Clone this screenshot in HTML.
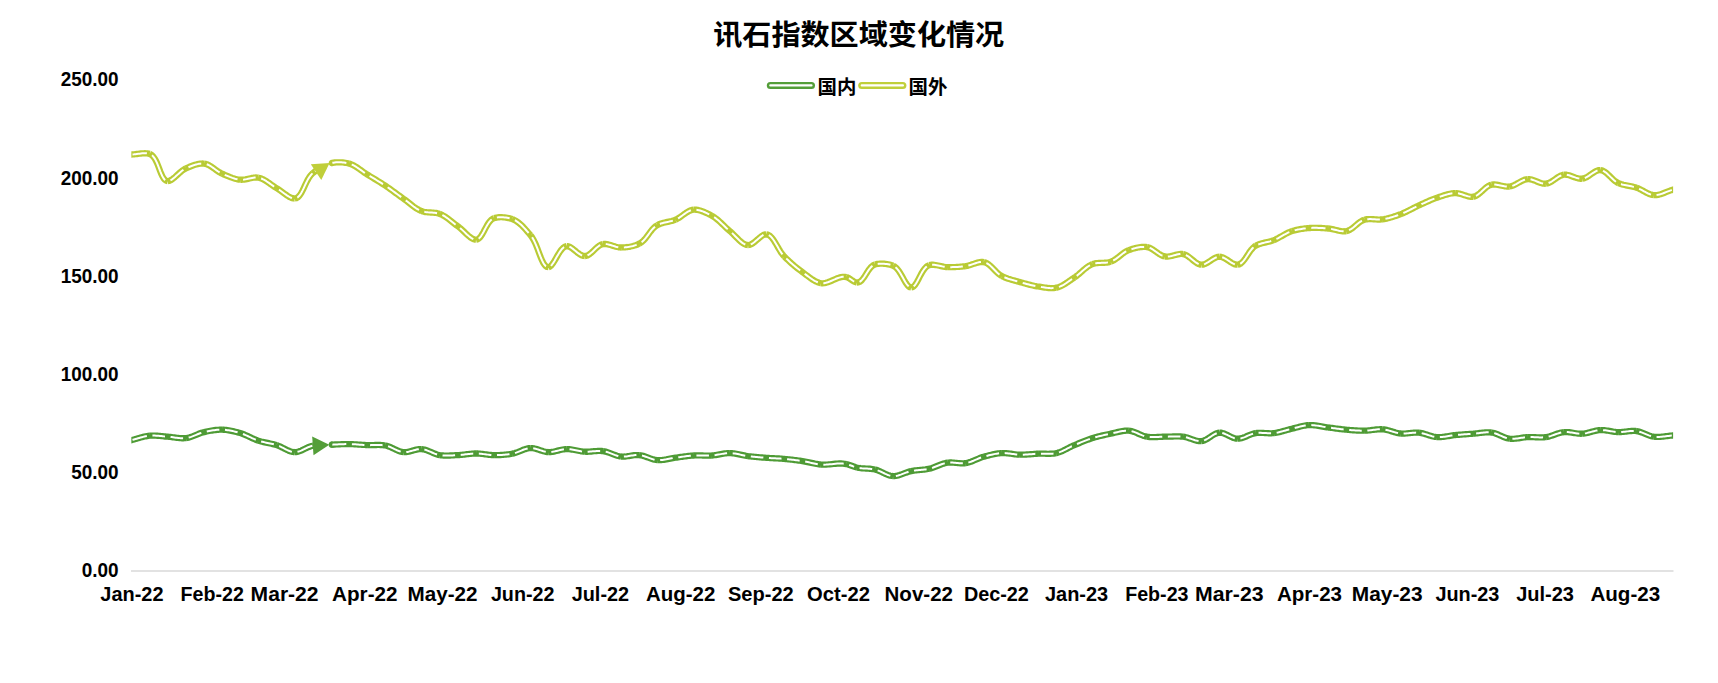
<!DOCTYPE html>
<html lang="zh"><head><meta charset="utf-8"><title>讯石指数区域变化情况</title>
<style>html,body{margin:0;padding:0;background:#fff;}body{width:1718px;height:683px;position:relative;overflow:hidden;font-family:"Liberation Sans","Noto Sans CJK SC",sans-serif;}</style></head>
<body>
<svg width="1718" height="683" viewBox="0 0 1718 683" style="position:absolute;left:0;top:0">
<rect width="1718" height="683" fill="#fff"/>
<line x1="131" y1="570.9" x2="1673.5" y2="570.9" stroke="#d9d9d9" stroke-width="1.5"/>
<text x="858.7" y="44.9" text-anchor="middle" font-size="28.6" font-family="'Liberation Sans','Noto Sans CJK SC',sans-serif" font-weight="bold" fill="#000" textLength="291" lengthAdjust="spacingAndGlyphs">讯石指数区域变化情况</text>
<text x="60.7" y="85.9" font-size="19.9" font-family="'Liberation Sans','Noto Sans CJK SC',sans-serif" font-weight="bold" fill="#000" textLength="57.9" lengthAdjust="spacingAndGlyphs">250.00</text>
<text x="60.7" y="184.9" font-size="19.9" font-family="'Liberation Sans','Noto Sans CJK SC',sans-serif" font-weight="bold" fill="#000" textLength="57.9" lengthAdjust="spacingAndGlyphs">200.00</text>
<text x="60.7" y="282.9" font-size="19.9" font-family="'Liberation Sans','Noto Sans CJK SC',sans-serif" font-weight="bold" fill="#000" textLength="57.9" lengthAdjust="spacingAndGlyphs">150.00</text>
<text x="60.7" y="380.9" font-size="19.9" font-family="'Liberation Sans','Noto Sans CJK SC',sans-serif" font-weight="bold" fill="#000" textLength="57.9" lengthAdjust="spacingAndGlyphs">100.00</text>
<text x="71.2" y="478.9" font-size="19.9" font-family="'Liberation Sans','Noto Sans CJK SC',sans-serif" font-weight="bold" fill="#000" textLength="47.4" lengthAdjust="spacingAndGlyphs">50.00</text>
<text x="81.7" y="576.9" font-size="19.9" font-family="'Liberation Sans','Noto Sans CJK SC',sans-serif" font-weight="bold" fill="#000" textLength="36.9" lengthAdjust="spacingAndGlyphs">0.00</text>
<text x="100.3" y="601.0" font-size="19.6" font-family="'Liberation Sans','Noto Sans CJK SC',sans-serif" font-weight="bold" fill="#000" textLength="63.2" lengthAdjust="spacingAndGlyphs">Jan-22</text>
<text x="180.5" y="601.0" font-size="19.6" font-family="'Liberation Sans','Noto Sans CJK SC',sans-serif" font-weight="bold" fill="#000" textLength="63.3" lengthAdjust="spacingAndGlyphs">Feb-22</text>
<text x="250.6" y="601.0" font-size="19.6" font-family="'Liberation Sans','Noto Sans CJK SC',sans-serif" font-weight="bold" fill="#000" textLength="68.0" lengthAdjust="spacingAndGlyphs">Mar-22</text>
<text x="332.1" y="601.0" font-size="19.6" font-family="'Liberation Sans','Noto Sans CJK SC',sans-serif" font-weight="bold" fill="#000" textLength="65.4" lengthAdjust="spacingAndGlyphs">Apr-22</text>
<text x="407.5" y="601.0" font-size="19.6" font-family="'Liberation Sans','Noto Sans CJK SC',sans-serif" font-weight="bold" fill="#000" textLength="70.0" lengthAdjust="spacingAndGlyphs">May-22</text>
<text x="490.9" y="601.0" font-size="19.6" font-family="'Liberation Sans','Noto Sans CJK SC',sans-serif" font-weight="bold" fill="#000" textLength="63.6" lengthAdjust="spacingAndGlyphs">Jun-22</text>
<text x="571.7" y="601.0" font-size="19.6" font-family="'Liberation Sans','Noto Sans CJK SC',sans-serif" font-weight="bold" fill="#000" textLength="57.4" lengthAdjust="spacingAndGlyphs">Jul-22</text>
<text x="645.9" y="601.0" font-size="19.6" font-family="'Liberation Sans','Noto Sans CJK SC',sans-serif" font-weight="bold" fill="#000" textLength="69.4" lengthAdjust="spacingAndGlyphs">Aug-22</text>
<text x="728.0" y="601.0" font-size="19.6" font-family="'Liberation Sans','Noto Sans CJK SC',sans-serif" font-weight="bold" fill="#000" textLength="65.7" lengthAdjust="spacingAndGlyphs">Sep-22</text>
<text x="807.0" y="601.0" font-size="19.6" font-family="'Liberation Sans','Noto Sans CJK SC',sans-serif" font-weight="bold" fill="#000" textLength="62.9" lengthAdjust="spacingAndGlyphs">Oct-22</text>
<text x="884.5" y="601.0" font-size="19.6" font-family="'Liberation Sans','Noto Sans CJK SC',sans-serif" font-weight="bold" fill="#000" textLength="68.5" lengthAdjust="spacingAndGlyphs">Nov-22</text>
<text x="963.9" y="601.0" font-size="19.6" font-family="'Liberation Sans','Noto Sans CJK SC',sans-serif" font-weight="bold" fill="#000" textLength="65.0" lengthAdjust="spacingAndGlyphs">Dec-22</text>
<text x="1045.0" y="601.0" font-size="19.6" font-family="'Liberation Sans','Noto Sans CJK SC',sans-serif" font-weight="bold" fill="#000" textLength="63.2" lengthAdjust="spacingAndGlyphs">Jan-23</text>
<text x="1125.2" y="601.0" font-size="19.6" font-family="'Liberation Sans','Noto Sans CJK SC',sans-serif" font-weight="bold" fill="#000" textLength="63.3" lengthAdjust="spacingAndGlyphs">Feb-23</text>
<text x="1195.0" y="601.0" font-size="19.6" font-family="'Liberation Sans','Noto Sans CJK SC',sans-serif" font-weight="bold" fill="#000" textLength="68.6" lengthAdjust="spacingAndGlyphs">Mar-23</text>
<text x="1277.0" y="601.0" font-size="19.6" font-family="'Liberation Sans','Noto Sans CJK SC',sans-serif" font-weight="bold" fill="#000" textLength="65.0" lengthAdjust="spacingAndGlyphs">Apr-23</text>
<text x="1351.8" y="601.0" font-size="19.6" font-family="'Liberation Sans','Noto Sans CJK SC',sans-serif" font-weight="bold" fill="#000" textLength="70.8" lengthAdjust="spacingAndGlyphs">May-23</text>
<text x="1435.4" y="601.0" font-size="19.6" font-family="'Liberation Sans','Noto Sans CJK SC',sans-serif" font-weight="bold" fill="#000" textLength="64.0" lengthAdjust="spacingAndGlyphs">Jun-23</text>
<text x="1516.2" y="601.0" font-size="19.6" font-family="'Liberation Sans','Noto Sans CJK SC',sans-serif" font-weight="bold" fill="#000" textLength="57.8" lengthAdjust="spacingAndGlyphs">Jul-23</text>
<text x="1590.4" y="601.0" font-size="19.6" font-family="'Liberation Sans','Noto Sans CJK SC',sans-serif" font-weight="bold" fill="#000" textLength="69.8" lengthAdjust="spacingAndGlyphs">Aug-23</text>
<line x1="770.3" y1="85.4" x2="811.5" y2="85.4" stroke="#549E39" stroke-width="7" stroke-linecap="round"/><line x1="770.3" y1="85.4" x2="811.5" y2="85.4" stroke="#fff" stroke-width="2.2" stroke-linecap="round"/>
<text x="817.6" y="94" font-size="19.4" font-family="'Liberation Sans','Noto Sans CJK SC',sans-serif" font-weight="bold" fill="#000" textLength="38.8" lengthAdjust="spacingAndGlyphs">国内</text>
<line x1="861.7" y1="85.4" x2="902.9" y2="85.4" stroke="#C0CF3A" stroke-width="7" stroke-linecap="round"/><line x1="861.7" y1="85.4" x2="902.9" y2="85.4" stroke="#fff" stroke-width="2.2" stroke-linecap="round"/>
<text x="908.6" y="94" font-size="19.4" font-family="'Liberation Sans','Noto Sans CJK SC',sans-serif" font-weight="bold" fill="#000" textLength="38.8" lengthAdjust="spacingAndGlyphs">国外</text>
<clipPath id="plotclip"><rect x="131.35" y="60" width="1541.75" height="520"/></clipPath><g clip-path="url(#plotclip)">
<path d="M129.50 154.61 L131.50 154.50 L132.81 154.43 L134.14 154.32 L135.49 154.17 L136.85 154.00 L138.21 153.83 L139.57 153.65 L140.93 153.50 L142.26 153.37 L143.58 153.29 L144.87 153.25 L146.13 153.29 L147.34 153.40 L148.52 153.60 L149.63 153.90 M149.63 153.90 L151.48 154.85 L153.11 156.36 L154.57 158.31 L155.88 160.62 L157.07 163.18 L158.17 165.89 L159.22 168.65 L160.25 171.37 L161.30 173.94 L162.38 176.26 L163.54 178.24 L164.80 179.77 L166.20 180.76 L167.77 181.10 M167.77 181.10 L168.91 180.95 L170.08 180.54 L171.28 179.90 L172.50 179.08 L173.75 178.11 L175.02 177.02 L176.32 175.84 L177.63 174.63 L178.97 173.40 L180.32 172.21 L181.69 171.07 L183.08 170.03 L184.48 169.13 L185.90 168.40 M185.90 168.40 L187.12 167.86 L188.37 167.31 L189.65 166.77 L190.94 166.24 L192.26 165.74 L193.58 165.27 L194.91 164.83 L196.24 164.44 L197.57 164.11 L198.90 163.85 L200.21 163.66 L201.51 163.54 L202.78 163.52 L204.03 163.60 M204.03 163.60 L205.39 163.83 L206.71 164.23 L208.02 164.76 L209.31 165.41 L210.59 166.17 L211.86 166.99 L213.12 167.87 L214.39 168.78 L215.65 169.70 L216.92 170.61 L218.21 171.49 L219.51 172.31 L220.82 173.06 L222.16 173.70 M222.16 173.70 L223.42 174.25 L224.67 174.80 L225.94 175.34 L227.22 175.89 L228.50 176.42 L229.79 176.93 L231.09 177.41 L232.39 177.87 L233.70 178.30 L235.01 178.68 L236.33 179.02 L237.65 179.30 L238.97 179.53 L240.30 179.70 M240.30 179.70 L241.57 179.77 L242.87 179.72 L244.17 179.58 L245.48 179.38 L246.80 179.12 L248.13 178.83 L249.45 178.53 L250.77 178.23 L252.08 177.96 L253.38 177.74 L254.67 177.58 L255.95 177.51 L257.20 177.54 L258.43 177.70 M258.43 177.70 L259.81 178.03 L261.17 178.47 L262.50 179.03 L263.82 179.68 L265.12 180.41 L266.40 181.21 L267.67 182.05 L268.94 182.93 L270.20 183.83 L271.47 184.73 L272.73 185.63 L274.00 186.50 L275.28 187.33 L276.56 188.10 M276.56 188.10 L277.87 188.89 L279.20 189.78 L280.54 190.73 L281.88 191.71 L283.24 192.72 L284.59 193.71 L285.93 194.67 L287.26 195.58 L288.57 196.41 L289.87 197.13 L291.13 197.73 L292.36 198.17 L293.55 198.43 L294.70 198.50 M294.70 198.50 L296.30 198.17 L297.75 197.34 L299.09 196.08 L300.34 194.45 L301.51 192.54 L302.64 190.39 L303.74 188.09 L304.85 185.69 L305.98 183.26 L307.15 180.88 L308.41 178.61 L309.75 176.51 L311.22 174.65 L312.83 173.10 M312.83 173.10 L313.97 172.19 L315.14 171.29 L316.34 170.39 L317.58 169.52 L318.16 169.12 M330.96 163.10 L332.20 162.85 L333.46 162.65 L334.75 162.49 L336.06 162.37 L337.38 162.31 L338.71 162.28 L340.05 162.30 L341.38 162.36 L342.71 162.46 L344.03 162.61 L345.33 162.80 L346.61 163.02 L347.87 163.29 L349.10 163.60 M349.10 163.60 L350.49 164.04 L351.86 164.57 L353.20 165.20 L354.52 165.90 L355.82 166.66 L357.10 167.48 L358.37 168.34 L359.64 169.23 L360.90 170.14 L362.15 171.05 L363.41 171.95 L364.67 172.83 L365.94 173.69 L367.23 174.50 M367.23 174.50 L368.53 175.29 L369.83 176.08 L371.14 176.86 L372.44 177.65 L373.75 178.43 L375.05 179.22 L376.35 180.01 L377.65 180.81 L378.95 181.60 L380.24 182.41 L381.53 183.22 L382.81 184.04 L384.09 184.86 L385.36 185.70 M385.36 185.70 L386.68 186.59 L387.99 187.49 L389.30 188.41 L390.60 189.33 L391.89 190.26 L393.18 191.20 L394.46 192.14 L395.75 193.09 L397.03 194.03 L398.32 194.98 L399.61 195.92 L400.90 196.85 L402.19 197.78 L403.49 198.70 M403.49 198.70 L404.77 199.62 L406.04 200.58 L407.29 201.56 L408.54 202.56 L409.79 203.56 L411.04 204.56 L412.30 205.54 L413.57 206.50 L414.85 207.42 L416.15 208.29 L417.48 209.10 L418.83 209.85 L420.21 210.52 L421.63 211.10 M421.63 211.10 L422.84 211.50 L424.10 211.80 L425.38 212.03 L426.69 212.20 L428.01 212.33 L429.35 212.42 L430.69 212.50 L432.04 212.58 L433.37 212.67 L434.70 212.80 L436.01 212.97 L437.29 213.20 L438.54 213.50 L439.76 213.90 M439.76 213.90 L441.18 214.48 L442.56 215.15 L443.91 215.89 L445.24 216.71 L446.54 217.57 L447.83 218.49 L449.10 219.44 L450.36 220.42 L451.61 221.42 L452.86 222.42 L454.11 223.42 L455.36 224.41 L456.62 225.37 L457.89 226.30 M457.89 226.30 L459.21 227.30 L460.54 228.42 L461.87 229.62 L463.20 230.87 L464.54 232.15 L465.87 233.43 L467.19 234.66 L468.51 235.83 L469.81 236.90 L471.09 237.84 L472.36 238.62 L473.61 239.21 L474.83 239.58 L476.03 239.70 M476.03 239.70 L477.45 239.40 L478.77 238.61 L480.03 237.38 L481.22 235.81 L482.37 233.98 L483.51 231.95 L484.65 229.80 L485.80 227.62 L486.99 225.48 L488.24 223.46 L489.56 221.63 L490.97 220.08 L492.50 218.88 L494.16 218.10 M494.16 218.10 L495.31 217.79 L496.52 217.55 L497.78 217.37 L499.08 217.26 L500.42 217.21 L501.78 217.22 L503.15 217.28 L504.53 217.40 L505.89 217.57 L507.25 217.79 L508.57 218.05 L509.86 218.36 L511.10 218.71 L512.29 219.10 M512.29 219.10 L513.81 219.72 L515.29 220.47 L516.72 221.35 L518.12 222.33 L519.48 223.41 L520.80 224.57 L522.10 225.80 L523.36 227.08 L524.59 228.40 L525.80 229.75 L526.99 231.10 L528.15 232.46 L529.30 233.79 L530.42 235.10 M530.42 235.10 L532.06 237.27 L533.56 239.80 L534.95 242.60 L536.25 245.59 L537.47 248.68 L538.65 251.80 L539.79 254.85 L540.92 257.74 L542.06 260.41 L543.22 262.75 L544.43 264.68 L545.72 266.13 L547.08 266.99 L548.56 267.20 M548.56 267.20 L549.72 266.80 L550.88 265.89 L552.06 264.54 L553.25 262.86 L554.46 260.92 L555.69 258.81 L556.94 256.61 L558.22 254.42 L559.53 252.31 L560.88 250.38 L562.26 248.71 L563.69 247.38 L565.17 246.48 L566.69 246.10 M566.69 246.10 L567.87 246.19 L569.08 246.56 L570.33 247.17 L571.61 247.97 L572.91 248.91 L574.23 249.95 L575.56 251.04 L576.90 252.13 L578.25 253.17 L579.59 254.13 L580.92 254.94 L582.24 255.58 L583.54 255.98 L584.82 256.10 M584.82 256.10 L586.14 255.91 L587.43 255.44 L588.71 254.74 L589.97 253.85 L591.22 252.81 L592.48 251.66 L593.73 250.46 L594.99 249.24 L596.26 248.05 L597.55 246.94 L598.86 245.94 L600.19 245.11 L601.56 244.48 L602.96 244.10 M602.96 244.10 L604.17 243.98 L605.42 243.99 L606.68 244.13 L607.96 244.37 L609.25 244.69 L610.56 245.06 L611.87 245.47 L613.19 245.89 L614.52 246.30 L615.84 246.69 L617.16 247.02 L618.48 247.28 L619.79 247.45 L621.09 247.50 M621.09 247.50 L622.40 247.47 L623.72 247.41 L625.06 247.31 L626.40 247.17 L627.75 247.00 L629.09 246.79 L630.43 246.54 L631.76 246.26 L633.07 245.94 L634.36 245.57 L635.62 245.17 L636.86 244.72 L638.06 244.23 L639.22 243.70 M639.22 243.70 L640.76 242.82 L642.19 241.74 L643.53 240.51 L644.80 239.14 L646.01 237.67 L647.18 236.13 L648.33 234.56 L649.48 232.98 L650.65 231.42 L651.85 229.92 L653.11 228.51 L654.43 227.21 L655.84 226.07 L657.36 225.10 M657.36 225.10 L658.53 224.51 L659.74 224.00 L660.99 223.55 L662.28 223.16 L663.59 222.81 L664.91 222.49 L666.26 222.19 L667.60 221.90 L668.95 221.61 L670.30 221.30 L671.63 220.97 L672.94 220.60 L674.23 220.18 L675.49 219.70 M675.49 219.70 L676.83 219.08 L678.16 218.35 L679.46 217.53 L680.75 216.65 L682.03 215.74 L683.30 214.81 L684.57 213.89 L685.83 213.01 L687.10 212.18 L688.38 211.43 L689.66 210.78 L690.96 210.26 L692.28 209.90 L693.62 209.70 M693.62 209.70 L694.88 209.67 L696.17 209.74 L697.47 209.92 L698.80 210.18 L700.13 210.53 L701.46 210.95 L702.80 211.43 L704.13 211.97 L705.46 212.54 L706.77 213.15 L708.05 213.78 L709.32 214.42 L710.55 215.06 L711.75 215.70 M711.75 215.70 L713.20 216.53 L714.60 217.45 L715.95 218.43 L717.27 219.48 L718.57 220.59 L719.83 221.73 L721.08 222.91 L722.33 224.10 L723.56 225.30 L724.80 226.51 L726.04 227.70 L727.30 228.87 L728.58 230.01 L729.89 231.10 M729.89 231.10 L731.16 232.19 L732.43 233.38 L733.70 234.64 L734.97 235.94 L736.25 237.26 L737.53 238.56 L738.81 239.82 L740.10 241.02 L741.40 242.11 L742.70 243.08 L744.02 243.89 L745.34 244.51 L746.67 244.93 L748.02 245.10 M748.02 245.10 L749.28 244.97 L750.57 244.55 L751.89 243.87 L753.22 243.00 L754.56 241.98 L755.91 240.85 L757.25 239.68 L758.59 238.51 L759.92 237.39 L761.23 236.37 L762.51 235.50 L763.76 234.83 L764.98 234.42 L766.15 234.30 M766.15 234.30 L767.67 234.59 L769.10 235.28 L770.46 236.32 L771.76 237.66 L773.02 239.25 L774.24 241.04 L775.44 242.98 L776.63 245.02 L777.83 247.11 L779.04 249.20 L780.28 251.23 L781.56 253.16 L782.89 254.93 L784.29 256.50 M784.29 256.50 L785.49 257.70 L786.71 258.90 L787.95 260.08 L789.20 261.25 L790.46 262.41 L791.74 263.55 L793.03 264.68 L794.33 265.79 L795.65 266.89 L796.98 267.97 L798.32 269.03 L799.68 270.07 L801.04 271.10 L802.42 272.10 M802.42 272.10 L803.65 273.00 L804.89 273.93 L806.14 274.89 L807.39 275.85 L808.66 276.80 L809.94 277.74 L811.22 278.64 L812.52 279.51 L813.83 280.31 L815.15 281.06 L816.48 281.72 L817.83 282.29 L819.18 282.75 L820.55 283.10 M820.55 283.10 L822.30 283.29 L824.10 283.18 L825.93 282.81 L827.79 282.25 L829.68 281.54 L831.58 280.74 L833.49 279.89 L835.40 279.05 L837.30 278.27 L839.19 277.60 L841.06 277.10 L842.89 276.82 L844.70 276.80 L846.46 277.10 M846.46 277.10 L847.22 277.35 L847.98 277.69 L848.74 278.09 L849.50 278.53 L850.26 279.02 L851.01 279.52 L851.76 280.03 L852.50 280.53 L853.24 281.00 L853.97 281.44 L854.69 281.82 L855.41 282.13 L856.12 282.37 L856.82 282.50 M856.82 282.50 L858.28 282.42 L859.66 281.87 L860.96 280.93 L862.20 279.67 L863.40 278.15 L864.57 276.44 L865.73 274.62 L866.90 272.75 L868.09 270.91 L869.32 269.16 L870.61 267.57 L871.96 266.22 L873.41 265.17 L874.95 264.50 M874.95 264.50 L876.12 264.20 L877.36 263.97 L878.64 263.81 L879.96 263.70 L881.31 263.66 L882.68 263.68 L884.06 263.75 L885.44 263.88 L886.80 264.06 L888.15 264.29 L889.46 264.57 L890.72 264.90 L891.93 265.28 L893.08 265.70 M893.08 265.70 L894.76 266.61 L896.33 267.92 L897.79 269.55 L899.18 271.43 L900.49 273.48 L901.74 275.63 L902.94 277.80 L904.12 279.93 L905.27 281.93 L906.42 283.73 L907.57 285.27 L908.75 286.46 L909.96 287.22 L911.22 287.50 M911.22 287.50 L912.49 287.21 L913.71 286.38 L914.89 285.11 L916.04 283.46 L917.19 281.53 L918.33 279.40 L919.50 277.15 L920.69 274.87 L921.94 272.63 L923.24 270.53 L924.62 268.64 L926.09 267.05 L927.66 265.84 L929.35 265.10 M929.35 265.10 L930.49 264.86 L931.67 264.75 L932.89 264.75 L934.15 264.84 L935.44 265.01 L936.76 265.24 L938.09 265.50 L939.43 265.80 L940.79 266.09 L942.15 266.38 L943.50 266.64 L944.84 266.86 L946.17 267.02 L947.48 267.10 M947.48 267.10 L948.78 267.13 L950.07 267.14 L951.37 267.14 L952.67 267.12 L953.97 267.08 L955.27 267.03 L956.57 266.97 L957.87 266.89 L959.16 266.79 L960.46 266.68 L961.75 266.56 L963.04 266.42 L964.33 266.27 L965.62 266.10 M965.62 266.10 L966.93 265.87 L968.25 265.57 L969.58 265.19 L970.92 264.78 L972.25 264.33 L973.58 263.88 L974.90 263.43 L976.21 263.01 L977.52 262.64 L978.80 262.33 L980.07 262.10 L981.32 261.98 L982.55 261.97 L983.75 262.10 M983.75 262.10 L985.18 262.47 L986.55 263.07 L987.87 263.85 L989.16 264.79 L990.41 265.86 L991.64 267.03 L992.86 268.26 L994.08 269.52 L995.31 270.79 L996.55 272.03 L997.82 273.21 L999.12 274.31 L1000.48 275.28 L1001.88 276.10 M1001.88 276.10 L1003.09 276.69 L1004.32 277.24 L1005.58 277.75 L1006.85 278.23 L1008.14 278.69 L1009.44 279.11 L1010.75 279.52 L1012.07 279.91 L1013.39 280.28 L1014.72 280.65 L1016.05 281.01 L1017.38 281.37 L1018.70 281.73 L1020.01 282.10 M1020.01 282.10 L1021.30 282.47 L1022.58 282.83 L1023.86 283.20 L1025.15 283.56 L1026.44 283.91 L1027.73 284.26 L1029.02 284.59 L1030.32 284.91 L1031.62 285.22 L1032.92 285.52 L1034.22 285.80 L1035.53 286.05 L1036.84 286.29 L1038.15 286.50 M1038.15 286.50 L1039.43 286.70 L1040.73 286.91 L1042.04 287.13 L1043.36 287.34 L1044.68 287.54 L1046.00 287.72 L1047.32 287.88 L1048.63 288.01 L1049.94 288.09 L1051.24 288.13 L1052.53 288.12 L1053.80 288.05 L1055.05 287.91 L1056.28 287.70 M1056.28 287.70 L1057.66 287.36 L1059.03 286.91 L1060.38 286.37 L1061.70 285.75 L1063.02 285.05 L1064.32 284.30 L1065.61 283.50 L1066.88 282.67 L1068.15 281.80 L1069.41 280.93 L1070.67 280.05 L1071.92 279.17 L1073.17 278.32 L1074.41 277.50 M1074.41 277.50 L1075.75 276.59 L1077.05 275.61 L1078.32 274.58 L1079.57 273.51 L1080.81 272.42 L1082.05 271.32 L1083.29 270.23 L1084.53 269.16 L1085.79 268.13 L1087.07 267.16 L1088.38 266.25 L1089.72 265.43 L1091.11 264.71 L1092.55 264.10 M1092.55 264.10 L1093.75 263.71 L1095.00 263.42 L1096.27 263.21 L1097.58 263.06 L1098.90 262.96 L1100.23 262.90 L1101.58 262.85 L1102.92 262.81 L1104.26 262.75 L1105.59 262.66 L1106.90 262.53 L1108.19 262.34 L1109.45 262.06 L1110.68 261.70 M1110.68 261.70 L1112.07 261.14 L1113.42 260.46 L1114.73 259.68 L1116.01 258.82 L1117.27 257.90 L1118.52 256.93 L1119.75 255.95 L1120.99 254.96 L1122.23 253.99 L1123.49 253.06 L1124.77 252.18 L1126.08 251.38 L1127.42 250.68 L1128.81 250.10 M1128.81 250.10 L1130.04 249.66 L1131.29 249.24 L1132.57 248.84 L1133.86 248.46 L1135.18 248.11 L1136.50 247.80 L1137.83 247.52 L1139.17 247.29 L1140.50 247.11 L1141.82 246.98 L1143.13 246.91 L1144.42 246.90 L1145.70 246.96 L1146.94 247.10 M1146.94 247.10 L1148.30 247.39 L1149.63 247.85 L1150.93 248.46 L1152.22 249.18 L1153.49 249.99 L1154.75 250.86 L1156.00 251.76 L1157.26 252.66 L1158.52 253.53 L1159.80 254.35 L1161.08 255.09 L1162.39 255.71 L1163.72 256.19 L1165.08 256.50 M1165.08 256.50 L1166.32 256.62 L1167.59 256.60 L1168.88 256.47 L1170.19 256.24 L1171.51 255.95 L1172.84 255.62 L1174.17 255.26 L1175.50 254.91 L1176.82 254.58 L1178.14 254.29 L1179.44 254.08 L1180.72 253.96 L1181.98 253.96 L1183.21 254.10 M1183.21 254.10 L1184.59 254.46 L1185.94 255.04 L1187.27 255.78 L1188.57 256.66 L1189.85 257.64 L1191.12 258.67 L1192.39 259.73 L1193.65 260.78 L1194.90 261.78 L1196.17 262.69 L1197.44 263.47 L1198.72 264.09 L1200.02 264.51 L1201.34 264.70 M1201.34 264.70 L1202.61 264.63 L1203.88 264.33 L1205.16 263.85 L1206.45 263.22 L1207.75 262.48 L1209.05 261.65 L1210.35 260.79 L1211.65 259.93 L1212.96 259.09 L1214.27 258.33 L1215.57 257.67 L1216.88 257.16 L1218.18 256.82 L1219.48 256.70 M1219.48 256.70 L1220.78 256.82 L1222.10 257.17 L1223.43 257.70 L1224.77 258.38 L1226.11 259.16 L1227.45 260.02 L1228.78 260.90 L1230.11 261.78 L1231.42 262.60 L1232.71 263.35 L1233.98 263.97 L1235.22 264.43 L1236.43 264.68 L1237.61 264.70 M1237.61 264.70 L1239.09 264.35 L1240.48 263.64 L1241.79 262.62 L1243.04 261.35 L1244.25 259.87 L1245.43 258.23 L1246.59 256.49 L1247.76 254.70 L1248.95 252.91 L1250.17 251.16 L1251.44 249.52 L1252.79 248.02 L1254.21 246.73 L1255.74 245.70 M1255.74 245.70 L1256.91 245.10 L1258.12 244.57 L1259.37 244.10 L1260.65 243.68 L1261.95 243.31 L1263.28 242.97 L1264.61 242.65 L1265.96 242.33 L1267.31 242.02 L1268.65 241.70 L1269.99 241.36 L1271.31 240.98 L1272.60 240.57 L1273.88 240.10 M1273.88 240.10 L1275.20 239.54 L1276.51 238.93 L1277.81 238.27 L1279.09 237.58 L1280.36 236.87 L1281.63 236.15 L1282.90 235.43 L1284.17 234.71 L1285.44 234.01 L1286.72 233.33 L1288.02 232.70 L1289.33 232.10 L1290.66 231.57 L1292.01 231.10 M1292.01 231.10 L1293.15 230.75 L1294.30 230.43 L1295.46 230.13 L1296.63 229.86 L1297.80 229.60 L1298.99 229.37 L1300.18 229.15 L1301.37 228.96 L1302.56 228.78 L1303.76 228.61 L1304.96 228.47 L1306.15 228.33 L1307.35 228.21 L1308.54 228.10 M1308.54 228.10 L1309.94 227.99 L1311.34 227.91 L1312.75 227.86 L1314.16 227.83 L1315.57 227.83 L1316.99 227.84 L1318.40 227.88 L1319.81 227.93 L1321.23 228.00 L1322.64 228.08 L1324.05 228.17 L1325.46 228.28 L1326.87 228.38 L1328.27 228.50 M1328.27 228.50 L1329.58 228.65 L1330.89 228.86 L1332.21 229.12 L1333.54 229.42 L1334.86 229.74 L1336.18 230.06 L1337.50 230.38 L1338.81 230.67 L1340.12 230.92 L1341.41 231.12 L1342.68 231.26 L1343.95 231.31 L1345.19 231.26 L1346.41 231.10 M1346.41 231.10 L1347.80 230.74 L1349.14 230.18 L1350.45 229.47 L1351.73 228.63 L1352.98 227.69 L1354.22 226.68 L1355.46 225.63 L1356.69 224.57 L1357.94 223.54 L1359.20 222.55 L1360.48 221.64 L1361.79 220.84 L1363.14 220.19 L1364.54 219.70 M1364.54 219.70 L1365.76 219.42 L1367.00 219.24 L1368.27 219.13 L1369.56 219.10 L1370.86 219.12 L1372.17 219.17 L1373.49 219.25 L1374.82 219.34 L1376.14 219.43 L1377.47 219.50 L1378.79 219.53 L1380.10 219.52 L1381.39 219.45 L1382.67 219.30 M1382.67 219.30 L1383.99 219.09 L1385.31 218.84 L1386.63 218.56 L1387.94 218.25 L1389.25 217.92 L1390.55 217.56 L1391.85 217.18 L1393.15 216.79 L1394.44 216.37 L1395.73 215.94 L1397.01 215.49 L1398.28 215.04 L1399.55 214.57 L1400.81 214.10 M1400.81 214.10 L1402.14 213.58 L1403.46 213.02 L1404.77 212.44 L1406.07 211.83 L1407.36 211.20 L1408.64 210.55 L1409.93 209.90 L1411.21 209.24 L1412.49 208.58 L1413.77 207.92 L1415.05 207.27 L1416.34 206.63 L1417.63 206.00 L1418.94 205.40 M1418.94 205.40 L1420.22 204.82 L1421.50 204.23 L1422.78 203.64 L1424.06 203.06 L1425.35 202.47 L1426.63 201.89 L1427.92 201.32 L1429.21 200.75 L1430.51 200.20 L1431.81 199.66 L1433.11 199.14 L1434.43 198.64 L1435.75 198.16 L1437.07 197.70 M1437.07 197.70 L1438.34 197.27 L1439.61 196.83 L1440.89 196.39 L1442.18 195.95 L1443.47 195.52 L1444.77 195.11 L1446.07 194.72 L1447.37 194.35 L1448.68 194.02 L1449.98 193.73 L1451.29 193.49 L1452.60 193.30 L1453.90 193.17 L1455.20 193.10 M1455.20 193.10 L1456.50 193.14 L1457.81 193.30 L1459.12 193.56 L1460.44 193.91 L1461.77 194.31 L1463.09 194.74 L1464.41 195.19 L1465.73 195.62 L1467.04 196.02 L1468.33 196.36 L1469.61 196.62 L1470.88 196.78 L1472.12 196.81 L1473.34 196.70 M1473.34 196.70 L1474.73 196.35 L1476.08 195.77 L1477.38 195.01 L1478.66 194.10 L1479.91 193.08 L1481.15 191.98 L1482.38 190.83 L1483.61 189.69 L1484.85 188.57 L1486.11 187.52 L1487.40 186.57 L1488.71 185.76 L1490.07 185.12 L1491.47 184.70 M1491.47 184.70 L1492.69 184.52 L1493.93 184.46 L1495.20 184.52 L1496.49 184.67 L1497.80 184.89 L1499.12 185.15 L1500.45 185.45 L1501.78 185.75 L1503.11 186.03 L1504.43 186.28 L1505.75 186.47 L1507.05 186.59 L1508.34 186.60 L1509.60 186.50 M1509.60 186.50 L1510.94 186.24 L1512.26 185.84 L1513.57 185.33 L1514.86 184.73 L1516.15 184.06 L1517.43 183.35 L1518.70 182.62 L1519.98 181.90 L1521.25 181.22 L1522.53 180.59 L1523.82 180.03 L1525.11 179.59 L1526.42 179.27 L1527.74 179.10 M1527.74 179.10 L1529.01 179.11 L1530.30 179.27 L1531.59 179.56 L1532.90 179.95 L1534.21 180.41 L1535.52 180.92 L1536.84 181.46 L1538.15 182.00 L1539.46 182.51 L1540.76 182.96 L1542.06 183.33 L1543.34 183.59 L1544.61 183.73 L1545.87 183.70 M1545.87 183.70 L1547.21 183.47 L1548.53 183.05 L1549.83 182.48 L1551.11 181.78 L1552.39 180.99 L1553.66 180.13 L1554.93 179.24 L1556.19 178.34 L1557.46 177.48 L1558.74 176.68 L1560.03 175.97 L1561.34 175.38 L1562.66 174.95 L1564.00 174.70 M1564.00 174.70 L1565.26 174.65 L1566.53 174.76 L1567.82 174.99 L1569.12 175.32 L1570.43 175.73 L1571.74 176.20 L1573.06 176.69 L1574.38 177.17 L1575.70 177.64 L1577.01 178.05 L1578.31 178.39 L1579.60 178.63 L1580.88 178.74 L1582.14 178.70 M1582.14 178.70 L1583.48 178.45 L1584.82 178.01 L1586.15 177.40 L1587.48 176.66 L1588.79 175.83 L1590.10 174.95 L1591.40 174.04 L1592.70 173.15 L1593.98 172.30 L1595.26 171.55 L1596.52 170.91 L1597.78 170.44 L1599.03 170.15 L1600.27 170.10 M1600.27 170.10 L1601.62 170.32 L1602.94 170.78 L1604.23 171.46 L1605.49 172.32 L1606.75 173.32 L1607.99 174.44 L1609.23 175.63 L1610.48 176.85 L1611.73 178.09 L1613.01 179.29 L1614.30 180.43 L1615.63 181.46 L1616.99 182.37 L1618.40 183.10 M1618.40 183.10 L1619.62 183.60 L1620.86 184.03 L1622.13 184.42 L1623.41 184.75 L1624.72 185.05 L1626.03 185.33 L1627.36 185.59 L1628.69 185.84 L1630.02 186.09 L1631.34 186.35 L1632.66 186.63 L1633.97 186.95 L1635.26 187.30 L1636.53 187.70 M1636.53 187.70 L1637.79 188.17 L1639.04 188.72 L1640.28 189.32 L1641.50 189.97 L1642.73 190.64 L1643.94 191.32 L1645.16 191.99 L1646.38 192.63 L1647.59 193.24 L1648.81 193.79 L1650.04 194.27 L1651.27 194.66 L1652.51 194.94 L1653.77 195.10 M1653.77 195.10 L1655.10 195.13 L1656.44 195.04 L1657.79 194.84 L1659.14 194.55 L1660.50 194.17 L1661.86 193.73 L1663.23 193.25 L1664.60 192.73 L1665.97 192.18 L1667.34 191.64 L1668.71 191.10 L1670.07 190.59 L1671.44 190.12 L1672.80 189.70 L1674.71 189.11" fill="none" stroke="#B9CB35" stroke-width="6.30" stroke-linecap="butt" stroke-linejoin="round"/>
<circle cx="331.86" cy="163.10" r="3.15" fill="#B9CB35"/>
<path d="M132.50 154.45 L132.81 154.43 L134.14 154.32 L135.49 154.17 L136.85 154.00 L138.21 153.83 L139.57 153.65 L140.93 153.50 L142.26 153.37 L143.58 153.29 L144.87 153.25 L146.13 153.29 L146.89 153.36 M152.01 155.34 L153.11 156.36 L154.57 158.31 L155.88 160.62 L157.07 163.18 L158.17 165.89 L159.22 168.65 L160.25 171.37 L161.30 173.94 L162.38 176.26 L163.54 178.24 L164.80 179.77 L165.22 180.07 M170.44 180.35 L171.28 179.90 L172.50 179.08 L173.75 178.11 L175.02 177.02 L176.32 175.84 L177.63 174.63 L178.97 173.40 L180.32 172.21 L181.69 171.07 L183.08 170.03 L183.47 169.79 M188.46 167.27 L189.65 166.77 L190.94 166.24 L192.26 165.74 L193.58 165.27 L194.91 164.83 L196.24 164.44 L197.57 164.11 L198.90 163.85 L200.21 163.66 L201.24 163.57 M206.75 164.24 L208.02 164.76 L209.31 165.41 L210.59 166.17 L211.86 166.99 L213.12 167.87 L214.39 168.78 L215.65 169.70 L216.92 170.61 L218.21 171.49 L219.51 172.31 L219.68 172.41 M224.73 174.82 L225.94 175.34 L227.22 175.89 L228.50 176.42 L229.79 176.93 L231.09 177.41 L232.39 177.87 L233.70 178.30 L235.01 178.68 L236.33 179.02 L237.53 179.28 M243.09 179.70 L244.17 179.58 L245.48 179.38 L246.80 179.12 L248.13 178.83 L249.45 178.53 L250.77 178.23 L252.08 177.96 L253.38 177.74 L254.67 177.58 L255.64 177.53 M261.12 178.46 L261.17 178.47 L262.50 179.03 L263.82 179.68 L265.12 180.41 L266.40 181.21 L267.67 182.05 L268.94 182.93 L270.20 183.83 L271.47 184.73 L272.73 185.63 L274.00 186.50 L274.19 186.62 M278.93 189.60 L279.20 189.78 L280.54 190.73 L281.88 191.71 L283.24 192.72 L284.59 193.71 L285.93 194.67 L287.26 195.58 L288.57 196.41 L289.87 197.13 L291.13 197.73 L291.95 198.02 M297.31 197.59 L297.75 197.34 L299.09 196.08 L300.34 194.45 L301.51 192.54 L302.64 190.39 L303.74 188.09 L304.85 185.69 L305.98 183.26 L307.15 180.88 L308.41 178.61 L309.75 176.51 L311.22 174.65 L312.54 173.38 M315.03 171.37 L315.14 171.29 L316.16 170.53 M332.34 162.83 L333.46 162.65 L334.75 162.49 L336.06 162.37 L337.38 162.31 L338.71 162.28 L340.05 162.30 L341.38 162.36 L342.71 162.46 L344.03 162.61 L345.33 162.80 L346.37 162.98 M351.74 164.52 L351.86 164.57 L353.20 165.20 L354.52 165.90 L355.82 166.66 L357.10 167.48 L358.37 168.34 L359.64 169.23 L360.90 170.14 L362.15 171.05 L363.41 171.95 L364.67 172.83 L364.88 172.97 M369.62 175.95 L369.83 176.08 L371.14 176.86 L372.44 177.65 L373.75 178.43 L375.05 179.22 L376.35 180.01 L377.65 180.81 L378.95 181.60 L380.24 182.41 L381.53 183.22 L382.81 184.04 L383.02 184.17 M387.68 187.27 L387.99 187.49 L389.30 188.41 L390.60 189.33 L391.89 190.26 L393.18 191.20 L394.46 192.14 L395.75 193.09 L397.03 194.03 L398.32 194.98 L399.61 195.92 L400.90 196.85 L401.21 197.08 M405.75 200.36 L406.04 200.58 L407.29 201.56 L408.54 202.56 L409.79 203.56 L411.04 204.56 L412.30 205.54 L413.57 206.50 L414.85 207.42 L416.15 208.29 L417.48 209.10 L418.83 209.85 L419.07 209.97 M424.32 211.84 L425.38 212.03 L426.69 212.20 L428.01 212.33 L429.35 212.42 L430.69 212.50 L432.04 212.58 L433.37 212.67 L434.70 212.80 L436.01 212.97 L437.06 213.16 M442.32 215.03 L442.56 215.15 L443.91 215.89 L445.24 216.71 L446.54 217.57 L447.83 218.49 L449.10 219.44 L450.36 220.42 L451.61 221.42 L452.86 222.42 L454.11 223.42 L455.36 224.41 L455.65 224.63 M460.09 228.04 L460.54 228.42 L461.87 229.62 L463.20 230.87 L464.54 232.15 L465.87 233.43 L467.19 234.66 L468.51 235.83 L469.81 236.90 L471.09 237.84 L472.36 238.62 L473.32 239.07 M478.60 238.71 L478.77 238.61 L480.03 237.38 L481.22 235.81 L482.37 233.98 L483.51 231.95 L484.65 229.80 L485.80 227.62 L486.99 225.48 L488.24 223.46 L489.56 221.63 L490.97 220.08 L491.74 219.48 M496.89 217.50 L497.78 217.37 L499.08 217.26 L500.42 217.21 L501.78 217.22 L503.15 217.28 L504.53 217.40 L505.89 217.57 L507.25 217.79 L508.57 218.05 L509.61 218.30 M514.84 220.25 L515.29 220.47 L516.72 221.35 L518.12 222.33 L519.48 223.41 L520.80 224.57 L522.10 225.80 L523.36 227.08 L524.59 228.40 L525.80 229.75 L526.99 231.10 L528.15 232.46 L528.60 232.98 M532.10 237.34 L533.56 239.80 L534.95 242.60 L536.25 245.59 L537.47 248.68 L538.65 251.80 L539.79 254.85 L540.92 257.74 L542.06 260.41 L543.22 262.75 L544.43 264.68 L545.72 266.13 L545.98 266.29 M550.94 265.82 L552.06 264.54 L553.25 262.86 L554.46 260.92 L555.69 258.81 L556.94 256.61 L558.22 254.42 L559.53 252.31 L560.88 250.38 L562.26 248.71 L563.69 247.38 L564.12 247.12 M569.40 246.71 L570.33 247.17 L571.61 247.97 L572.91 248.91 L574.23 249.95 L575.56 251.04 L576.90 252.13 L578.25 253.17 L579.59 254.13 L580.92 254.94 L582.10 255.51 M587.52 255.40 L588.71 254.74 L589.97 253.85 L591.22 252.81 L592.48 251.66 L593.73 250.46 L594.99 249.24 L596.26 248.05 L597.55 246.94 L598.86 245.94 L600.19 245.11 L600.33 245.04 M605.75 244.03 L606.68 244.13 L607.96 244.37 L609.25 244.69 L610.56 245.06 L611.87 245.47 L613.19 245.89 L614.52 246.30 L615.84 246.69 L617.16 247.02 L618.30 247.25 M623.89 247.39 L625.06 247.31 L626.40 247.17 L627.75 247.00 L629.09 246.79 L630.43 246.54 L631.76 246.26 L633.07 245.94 L634.36 245.57 L635.62 245.17 L636.65 244.80 M641.58 242.20 L642.19 241.74 L643.53 240.51 L644.80 239.14 L646.01 237.67 L647.18 236.13 L648.33 234.56 L649.48 232.98 L650.65 231.42 L651.85 229.92 L653.11 228.51 L654.43 227.21 L655.06 226.70 M659.90 223.94 L660.99 223.55 L662.28 223.16 L663.59 222.81 L664.91 222.49 L666.26 222.19 L667.60 221.90 L668.95 221.61 L670.30 221.30 L671.63 220.97 L672.85 220.62 M677.99 218.44 L678.16 218.35 L679.46 217.53 L680.75 216.65 L682.03 215.74 L683.30 214.81 L684.57 213.89 L685.83 213.01 L687.10 212.18 L688.38 211.43 L689.66 210.78 L690.89 210.29 M696.42 209.77 L697.47 209.92 L698.80 210.18 L700.13 210.53 L701.46 210.95 L702.80 211.43 L704.13 211.97 L705.46 212.54 L706.77 213.15 L708.05 213.78 L709.28 214.40 M714.15 217.15 L714.60 217.45 L715.95 218.43 L717.27 219.48 L718.57 220.59 L719.83 221.73 L721.08 222.91 L722.33 224.10 L723.56 225.30 L724.80 226.51 L726.04 227.70 L727.30 228.87 L727.76 229.28 M731.98 232.96 L732.43 233.38 L733.70 234.64 L734.97 235.94 L736.25 237.26 L737.53 238.56 L738.81 239.82 L740.10 241.02 L741.40 242.11 L742.70 243.08 L744.02 243.89 L745.30 244.49 M750.73 244.47 L751.89 243.87 L753.22 243.00 L754.56 241.98 L755.91 240.85 L757.25 239.68 L758.59 238.51 L759.92 237.39 L761.23 236.37 L762.51 235.50 L763.47 234.99 M768.80 235.13 L769.10 235.28 L770.46 236.32 L771.76 237.66 L773.02 239.25 L774.24 241.04 L775.44 242.98 L776.63 245.02 L777.83 247.11 L779.04 249.20 L780.28 251.23 L781.56 253.16 L782.47 254.37 M786.27 258.47 L786.71 258.90 L787.95 260.08 L789.20 261.25 L790.46 262.41 L791.74 263.55 L793.03 264.68 L794.33 265.79 L795.65 266.89 L796.98 267.97 L798.32 269.03 L799.68 270.07 L800.16 270.44 M804.67 273.77 L804.89 273.93 L806.14 274.89 L807.39 275.85 L808.66 276.80 L809.94 277.74 L811.22 278.64 L812.52 279.51 L813.83 280.31 L815.15 281.06 L816.48 281.72 L817.83 282.29 L817.87 282.30 M823.34 283.22 L824.10 283.18 L825.93 282.81 L827.79 282.25 L829.68 281.54 L831.58 280.74 L833.49 279.89 L835.40 279.05 L837.30 278.27 L839.19 277.60 L841.06 277.10 L842.89 276.82 L843.68 276.81 M849.00 278.24 L849.50 278.53 L850.26 279.02 L851.01 279.52 L851.76 280.03 L852.50 280.53 L853.24 281.00 L853.97 281.44 L854.20 281.56 M859.52 281.93 L859.66 281.87 L860.96 280.93 L862.20 279.67 L863.40 278.15 L864.57 276.44 L865.73 274.62 L866.90 272.75 L868.09 270.91 L869.32 269.16 L870.61 267.57 L871.96 266.22 L872.50 265.83 M877.69 263.93 L878.64 263.81 L879.96 263.70 L881.31 263.66 L882.68 263.68 L884.06 263.75 L885.44 263.88 L886.80 264.06 L888.15 264.29 L889.46 264.57 L890.43 264.83 M895.44 267.18 L896.33 267.92 L897.79 269.55 L899.18 271.43 L900.49 273.48 L901.74 275.63 L902.94 277.80 L904.12 279.93 L905.27 281.93 L906.42 283.73 L907.57 285.27 L908.69 286.40 M913.72 286.37 L914.89 285.11 L916.04 283.46 L917.19 281.53 L918.33 279.40 L919.50 277.15 L920.69 274.87 L921.94 272.63 L923.24 270.53 L924.62 268.64 L926.09 267.05 L926.90 266.42 M932.12 264.75 L932.89 264.75 L934.15 264.84 L935.44 265.01 L936.76 265.24 L938.09 265.50 L939.43 265.80 L940.79 266.09 L942.15 266.38 L943.50 266.64 L944.70 266.84 M950.28 267.14 L951.37 267.14 L952.67 267.12 L953.97 267.08 L955.27 267.03 L956.57 266.97 L957.87 266.89 L959.16 266.79 L960.46 266.68 L961.75 266.56 L962.84 266.44 M968.36 265.54 L969.58 265.19 L970.92 264.78 L972.25 264.33 L973.58 263.88 L974.90 263.43 L976.21 263.01 L977.52 262.64 L978.80 262.33 L980.07 262.10 L980.96 262.01 M986.39 263.00 L986.55 263.07 L987.87 263.85 L989.16 264.79 L990.41 265.86 L991.64 267.03 L992.86 268.26 L994.08 269.52 L995.31 270.79 L996.55 272.03 L997.82 273.21 L999.12 274.31 L999.52 274.59 M1004.42 277.28 L1005.58 277.75 L1006.85 278.23 L1008.14 278.69 L1009.44 279.11 L1010.75 279.52 L1012.07 279.91 L1013.39 280.28 L1014.72 280.65 L1016.05 281.01 L1017.32 281.35 M1022.71 282.87 L1023.86 283.20 L1025.15 283.56 L1026.44 283.91 L1027.73 284.26 L1029.02 284.59 L1030.32 284.91 L1031.62 285.22 L1032.92 285.52 L1034.22 285.80 L1035.39 286.03 M1040.91 286.94 L1042.04 287.13 L1043.36 287.34 L1044.68 287.54 L1046.00 287.72 L1047.32 287.88 L1048.63 288.01 L1049.94 288.09 L1051.24 288.13 L1052.53 288.12 L1053.51 288.07 M1058.97 286.93 L1059.03 286.91 L1060.38 286.37 L1061.70 285.75 L1063.02 285.05 L1064.32 284.30 L1065.61 283.50 L1066.88 282.67 L1068.15 281.80 L1069.41 280.93 L1070.67 280.05 L1071.92 279.17 L1072.09 279.06 M1076.69 275.88 L1077.05 275.61 L1078.32 274.58 L1079.57 273.51 L1080.81 272.42 L1082.05 271.32 L1083.29 270.23 L1084.53 269.16 L1085.79 268.13 L1087.07 267.16 L1088.38 266.25 L1089.72 265.43 L1090.01 265.28 M1095.25 263.38 L1096.27 263.21 L1097.58 263.06 L1098.90 262.96 L1100.23 262.90 L1101.58 262.85 L1102.92 262.81 L1104.26 262.75 L1105.59 262.66 L1106.90 262.53 L1107.96 262.37 M1113.23 260.56 L1113.42 260.46 L1114.73 259.68 L1116.01 258.82 L1117.27 257.90 L1118.52 256.93 L1119.75 255.95 L1120.99 254.96 L1122.23 253.99 L1123.49 253.06 L1124.77 252.18 L1126.08 251.38 L1126.27 251.28 M1131.46 249.19 L1132.57 248.84 L1133.86 248.46 L1135.18 248.11 L1136.50 247.80 L1137.83 247.52 L1139.17 247.29 L1140.50 247.11 L1141.82 246.98 L1143.13 246.91 L1144.15 246.90 M1149.64 247.85 L1150.93 248.46 L1152.22 249.18 L1153.49 249.99 L1154.75 250.86 L1156.00 251.76 L1157.26 252.66 L1158.52 253.53 L1159.80 254.35 L1161.08 255.09 L1162.39 255.71 L1162.40 255.71 M1167.87 256.57 L1168.88 256.47 L1170.19 256.24 L1171.51 255.95 L1172.84 255.62 L1174.17 255.26 L1175.50 254.91 L1176.82 254.58 L1178.14 254.29 L1179.44 254.08 L1180.42 253.99 M1185.85 255.00 L1185.94 255.04 L1187.27 255.78 L1188.57 256.66 L1189.85 257.64 L1191.12 258.67 L1192.39 259.73 L1193.65 260.78 L1194.90 261.78 L1196.17 262.69 L1197.44 263.47 L1198.63 264.05 M1204.09 264.26 L1205.16 263.85 L1206.45 263.22 L1207.75 262.48 L1209.05 261.65 L1210.35 260.79 L1211.65 259.93 L1212.96 259.09 L1214.27 258.33 L1215.57 257.67 L1216.74 257.21 M1222.22 257.22 L1223.43 257.70 L1224.77 258.38 L1226.11 259.16 L1227.45 260.02 L1228.78 260.90 L1230.11 261.78 L1231.42 262.60 L1232.71 263.35 L1233.98 263.97 L1234.86 264.29 M1240.23 263.77 L1240.48 263.64 L1241.79 262.62 L1243.04 261.35 L1244.25 259.87 L1245.43 258.23 L1246.59 256.49 L1247.76 254.70 L1248.95 252.91 L1250.17 251.16 L1251.44 249.52 L1252.79 248.02 L1253.51 247.37 M1258.27 244.51 L1259.37 244.10 L1260.65 243.68 L1261.95 243.31 L1263.28 242.97 L1264.61 242.65 L1265.96 242.33 L1267.31 242.02 L1268.65 241.70 L1269.99 241.36 L1271.23 241.01 M1276.43 238.96 L1276.51 238.93 L1277.81 238.27 L1279.09 237.58 L1280.36 236.87 L1281.63 236.15 L1282.90 235.43 L1284.17 234.71 L1285.44 234.01 L1286.72 233.33 L1288.02 232.70 L1289.33 232.10 L1289.39 232.08 M1294.70 230.33 L1295.46 230.13 L1296.63 229.86 L1297.80 229.60 L1298.99 229.37 L1300.18 229.15 L1301.37 228.96 L1302.56 228.78 L1303.76 228.61 L1304.96 228.47 L1305.75 228.38 M1311.33 227.91 L1311.34 227.91 L1312.75 227.86 L1314.16 227.83 L1315.57 227.83 L1316.99 227.84 L1318.40 227.88 L1319.81 227.93 L1321.23 228.00 L1322.64 228.08 L1324.05 228.17 L1325.46 228.28 L1325.48 228.28 M1331.05 228.89 L1332.21 229.12 L1333.54 229.42 L1334.86 229.74 L1336.18 230.06 L1337.50 230.38 L1338.81 230.67 L1340.12 230.92 L1341.41 231.12 L1342.68 231.26 L1343.62 231.29 M1349.06 230.22 L1349.14 230.18 L1350.45 229.47 L1351.73 228.63 L1352.98 227.69 L1354.22 226.68 L1355.46 225.63 L1356.69 224.57 L1357.94 223.54 L1359.20 222.55 L1360.48 221.64 L1361.79 220.84 L1361.96 220.76 M1367.29 219.21 L1368.27 219.13 L1369.56 219.10 L1370.86 219.12 L1372.17 219.17 L1373.49 219.25 L1374.82 219.34 L1376.14 219.43 L1377.47 219.50 L1378.79 219.53 L1379.88 219.52 M1385.43 218.81 L1386.63 218.56 L1387.94 218.25 L1389.25 217.92 L1390.55 217.56 L1391.85 217.18 L1393.15 216.79 L1394.44 216.37 L1395.73 215.94 L1397.01 215.49 L1398.18 215.07 M1403.40 213.05 L1403.46 213.02 L1404.77 212.44 L1406.07 211.83 L1407.36 211.20 L1408.64 210.55 L1409.93 209.90 L1411.21 209.24 L1412.49 208.58 L1413.77 207.92 L1415.05 207.27 L1416.34 206.63 L1416.41 206.59 M1421.49 204.24 L1421.50 204.23 L1422.78 203.64 L1424.06 203.06 L1425.35 202.47 L1426.63 201.89 L1427.92 201.32 L1429.21 200.75 L1430.51 200.20 L1431.81 199.66 L1433.11 199.14 L1434.43 198.64 L1434.43 198.64 M1439.72 196.79 L1440.89 196.39 L1442.18 195.95 L1443.47 195.52 L1444.77 195.11 L1446.07 194.72 L1447.37 194.35 L1448.68 194.02 L1449.98 193.73 L1451.29 193.49 L1452.41 193.33 M1457.99 193.34 L1459.12 193.56 L1460.44 193.91 L1461.77 194.31 L1463.09 194.74 L1464.41 195.19 L1465.73 195.62 L1467.04 196.02 L1468.33 196.36 L1469.61 196.62 L1470.55 196.74 M1475.98 195.81 L1476.08 195.77 L1477.38 195.01 L1478.66 194.10 L1479.91 193.08 L1481.15 191.98 L1482.38 190.83 L1483.61 189.69 L1484.85 188.57 L1486.11 187.52 L1487.40 186.57 L1488.71 185.76 L1488.86 185.69 M1494.26 184.48 L1495.20 184.52 L1496.49 184.67 L1497.80 184.89 L1499.12 185.15 L1500.45 185.45 L1501.78 185.75 L1503.11 186.03 L1504.43 186.28 L1505.75 186.47 L1506.81 186.57 M1512.32 185.82 L1513.57 185.33 L1514.86 184.73 L1516.15 184.06 L1517.43 183.35 L1518.70 182.62 L1519.98 181.90 L1521.25 181.22 L1522.53 180.59 L1523.82 180.03 L1524.99 179.63 M1530.52 179.32 L1531.59 179.56 L1532.90 179.95 L1534.21 180.41 L1535.52 180.92 L1536.84 181.46 L1538.15 182.00 L1539.46 182.51 L1540.76 182.96 L1542.06 183.33 L1543.08 183.54 M1548.58 183.03 L1549.83 182.48 L1551.11 181.78 L1552.39 180.99 L1553.66 180.13 L1554.93 179.24 L1556.19 178.34 L1557.46 177.48 L1558.74 176.68 L1560.03 175.97 L1561.30 175.40 M1566.79 174.80 L1567.82 174.99 L1569.12 175.32 L1570.43 175.73 L1571.74 176.20 L1573.06 176.69 L1574.38 177.17 L1575.70 177.64 L1577.01 178.05 L1578.31 178.39 L1579.35 178.58 M1584.84 178.00 L1586.15 177.40 L1587.48 176.66 L1588.79 175.83 L1590.10 174.95 L1591.40 174.04 L1592.70 173.15 L1593.98 172.30 L1595.26 171.55 L1596.52 170.91 L1597.52 170.54 M1602.97 170.80 L1604.23 171.46 L1605.49 172.32 L1606.75 173.32 L1607.99 174.44 L1609.23 175.63 L1610.48 176.85 L1611.73 178.09 L1613.01 179.29 L1614.30 180.43 L1615.63 181.46 L1615.98 181.70 M1621.02 184.08 L1622.13 184.42 L1623.41 184.75 L1624.72 185.05 L1626.03 185.33 L1627.36 185.59 L1628.69 185.84 L1630.02 186.09 L1631.34 186.35 L1632.66 186.63 L1633.85 186.92 M1639.12 188.76 L1640.28 189.32 L1641.50 189.97 L1642.73 190.64 L1643.94 191.32 L1645.16 191.99 L1646.38 192.63 L1647.59 193.24 L1648.81 193.79 L1650.04 194.27 L1651.02 194.58 M1656.56 195.02 L1657.79 194.84 L1659.14 194.55 L1660.50 194.17 L1661.86 193.73 L1663.23 193.25 L1664.60 192.73 L1665.97 192.18 L1667.34 191.64 L1668.71 191.10 L1670.07 190.59 L1671.44 190.12 L1671.84 189.99" fill="none" stroke="#fff" stroke-width="2.00" stroke-linecap="butt" stroke-linejoin="round"/>
<polygon points="329.60,163.00 321.28,179.91 310.80,164.18" fill="#C0CF3A"/>

<path d="M129.56 440.59 L131.50 440.10 L132.79 439.77 L134.09 439.42 L135.38 439.06 L136.67 438.68 L137.96 438.30 L139.24 437.93 L140.53 437.56 L141.83 437.20 L143.12 436.87 L144.42 436.56 L145.71 436.28 L147.02 436.04 L148.32 435.84 L149.63 435.70 M149.63 435.70 L150.91 435.61 L152.20 435.57 L153.49 435.56 L154.78 435.59 L156.07 435.66 L157.37 435.74 L158.67 435.85 L159.97 435.97 L161.27 436.10 L162.57 436.23 L163.87 436.37 L165.17 436.49 L166.47 436.60 L167.77 436.70 M167.77 436.70 L169.06 436.80 L170.37 436.94 L171.67 437.10 L172.97 437.27 L174.28 437.46 L175.58 437.64 L176.89 437.81 L178.19 437.96 L179.49 438.10 L180.78 438.19 L182.07 438.25 L183.35 438.26 L184.63 438.21 L185.90 438.10 M185.90 438.10 L187.22 437.90 L188.53 437.61 L189.83 437.26 L191.12 436.84 L192.41 436.38 L193.69 435.88 L194.97 435.36 L196.25 434.82 L197.53 434.29 L198.82 433.78 L200.11 433.29 L201.41 432.84 L202.71 432.44 L204.03 432.10 M204.03 432.10 L205.30 431.81 L206.58 431.54 L207.87 431.27 L209.16 431.01 L210.46 430.77 L211.76 430.54 L213.06 430.34 L214.36 430.15 L215.67 430.00 L216.97 429.87 L218.28 429.78 L219.58 429.71 L220.87 429.69 L222.16 429.70 M222.16 429.70 L223.47 429.75 L224.77 429.85 L226.08 429.98 L227.39 430.14 L228.70 430.33 L230.00 430.56 L231.31 430.81 L232.61 431.08 L233.91 431.38 L235.20 431.69 L236.49 432.03 L237.77 432.37 L239.04 432.73 L240.30 433.10 M240.30 433.10 L241.63 433.52 L242.94 434.00 L244.25 434.51 L245.54 435.06 L246.82 435.64 L248.10 436.23 L249.38 436.83 L250.65 437.44 L251.93 438.04 L253.21 438.63 L254.50 439.20 L255.80 439.74 L257.11 440.24 L258.43 440.70 M258.43 440.70 L259.70 441.09 L260.98 441.45 L262.27 441.78 L263.57 442.09 L264.87 442.38 L266.18 442.66 L267.49 442.93 L268.79 443.20 L270.10 443.47 L271.41 443.76 L272.71 444.06 L274.00 444.38 L275.29 444.72 L276.56 445.10 M276.56 445.10 L277.88 445.56 L279.19 446.09 L280.50 446.68 L281.79 447.32 L283.09 447.97 L284.38 448.64 L285.67 449.29 L286.95 449.92 L288.24 450.50 L289.52 451.02 L290.81 451.45 L292.10 451.79 L293.40 452.01 L294.70 452.10 M294.70 452.10 L295.98 452.04 L297.27 451.83 L298.55 451.51 L299.83 451.08 L301.11 450.57 L302.40 450.00 L303.68 449.38 L304.97 448.75 L306.26 448.12 L307.56 447.51 L308.87 446.95 L310.18 446.44 L311.50 446.02 L312.83 445.70 M312.83 445.70 L314.09 445.48 L315.37 445.30 L316.60 445.16 M330.96 444.70 L332.26 444.64 L333.55 444.58 L334.85 444.52 L336.14 444.45 L337.44 444.39 L338.73 444.33 L340.03 444.28 L341.32 444.22 L342.62 444.18 L343.92 444.14 L345.21 444.12 L346.51 444.10 L347.80 444.09 L349.10 444.10 M349.10 444.10 L350.39 444.12 L351.69 444.16 L352.98 444.22 L354.28 444.29 L355.57 444.36 L356.87 444.45 L358.16 444.54 L359.46 444.63 L360.75 444.72 L362.05 444.81 L363.34 444.90 L364.64 444.97 L365.93 445.04 L367.23 445.10 M367.23 445.10 L368.53 445.13 L369.83 445.14 L371.13 445.12 L372.44 445.09 L373.75 445.06 L375.05 445.02 L376.36 444.99 L377.66 444.97 L378.96 444.97 L380.26 444.99 L381.54 445.05 L382.83 445.15 L384.10 445.30 L385.36 445.50 M385.36 445.50 L386.69 445.80 L388.01 446.20 L389.31 446.67 L390.60 447.21 L391.89 447.80 L393.17 448.41 L394.44 449.03 L395.72 449.64 L397.00 450.22 L398.28 450.76 L399.57 451.23 L400.87 451.63 L402.17 451.92 L403.49 452.10 M403.49 452.10 L404.77 452.14 L406.05 452.07 L407.34 451.90 L408.63 451.65 L409.94 451.34 L411.24 451.00 L412.55 450.63 L413.86 450.26 L415.17 449.91 L416.47 449.59 L417.77 449.34 L419.06 449.16 L420.35 449.07 L421.63 449.10 M421.63 449.10 L422.94 449.26 L424.25 449.52 L425.54 449.88 L426.83 450.32 L428.12 450.81 L429.40 451.34 L430.68 451.90 L431.96 452.47 L433.24 453.03 L434.53 453.56 L435.82 454.05 L437.12 454.48 L438.44 454.84 L439.76 455.10 M439.76 455.10 L441.03 455.27 L442.30 455.41 L443.59 455.50 L444.88 455.55 L446.17 455.57 L447.47 455.57 L448.77 455.55 L450.08 455.50 L451.39 455.44 L452.69 455.38 L454.00 455.31 L455.30 455.23 L456.60 455.16 L457.89 455.10 M457.89 455.10 L459.19 455.03 L460.49 454.93 L461.78 454.81 L463.08 454.67 L464.37 454.52 L465.67 454.36 L466.96 454.20 L468.26 454.05 L469.55 453.90 L470.85 453.77 L472.14 453.66 L473.44 453.57 L474.73 453.52 L476.03 453.50 M476.03 453.50 L477.32 453.52 L478.62 453.59 L479.91 453.69 L481.21 453.81 L482.50 453.96 L483.80 454.12 L485.09 454.29 L486.39 454.46 L487.68 454.62 L488.98 454.77 L490.27 454.90 L491.57 455.00 L492.86 455.07 L494.16 455.10 M494.16 455.10 L495.46 455.10 L496.75 455.09 L498.06 455.07 L499.36 455.03 L500.66 454.98 L501.97 454.91 L503.27 454.83 L504.57 454.73 L505.87 454.61 L507.16 454.47 L508.45 454.31 L509.74 454.13 L511.02 453.93 L512.29 453.70 M512.29 453.70 L513.61 453.41 L514.92 453.04 L516.22 452.60 L517.52 452.12 L518.81 451.61 L520.10 451.08 L521.38 450.55 L522.67 450.04 L523.95 449.55 L525.24 449.11 L526.53 448.73 L527.82 448.42 L529.12 448.21 L530.42 448.10 M530.42 448.10 L531.71 448.11 L532.99 448.24 L534.28 448.46 L535.57 448.77 L536.86 449.13 L538.16 449.53 L539.46 449.96 L540.75 450.39 L542.05 450.81 L543.35 451.20 L544.65 451.54 L545.95 451.82 L547.26 452.01 L548.56 452.10 M548.56 452.10 L549.85 452.09 L551.14 451.99 L552.43 451.81 L553.72 451.58 L555.02 451.31 L556.31 451.00 L557.61 450.68 L558.91 450.36 L560.20 450.04 L561.50 449.75 L562.80 449.50 L564.10 449.29 L565.39 449.16 L566.69 449.10 M566.69 449.10 L567.98 449.12 L569.28 449.21 L570.57 449.35 L571.86 449.53 L573.15 449.75 L574.45 449.99 L575.74 450.25 L577.04 450.52 L578.33 450.78 L579.63 451.03 L580.93 451.26 L582.22 451.45 L583.52 451.60 L584.82 451.70 M584.82 451.70 L586.12 451.74 L587.41 451.73 L588.71 451.68 L590.01 451.59 L591.32 451.49 L592.62 451.37 L593.92 451.24 L595.23 451.13 L596.53 451.03 L597.82 450.95 L599.12 450.91 L600.40 450.92 L601.68 450.98 L602.96 451.10 M602.96 451.10 L604.27 451.31 L605.58 451.61 L606.88 451.98 L608.17 452.40 L609.46 452.86 L610.74 453.35 L612.03 453.85 L613.31 454.35 L614.59 454.84 L615.88 455.29 L617.17 455.69 L618.47 456.04 L619.77 456.32 L621.09 456.50 M621.09 456.50 L622.36 456.58 L623.65 456.59 L624.94 456.52 L626.24 456.39 L627.54 456.23 L628.84 456.03 L630.15 455.82 L631.46 455.61 L632.76 455.41 L634.06 455.24 L635.36 455.11 L636.66 455.03 L637.94 455.03 L639.22 455.10 M639.22 455.10 L640.54 455.27 L641.84 455.54 L643.14 455.87 L644.43 456.27 L645.72 456.71 L647.01 457.18 L648.30 457.66 L649.58 458.14 L650.87 458.60 L652.15 459.03 L653.45 459.41 L654.74 459.73 L656.05 459.96 L657.36 460.10 M657.36 460.10 L658.64 460.15 L659.92 460.13 L661.21 460.06 L662.50 459.93 L663.79 459.76 L665.09 459.56 L666.39 459.34 L667.69 459.09 L668.99 458.84 L670.29 458.58 L671.59 458.33 L672.89 458.10 L674.19 457.88 L675.49 457.70 M675.49 457.70 L676.78 457.53 L678.08 457.36 L679.37 457.18 L680.66 456.99 L681.96 456.81 L683.25 456.63 L684.54 456.45 L685.84 456.28 L687.13 456.11 L688.43 455.96 L689.73 455.82 L691.02 455.70 L692.32 455.59 L693.62 455.50 M693.62 455.50 L694.91 455.44 L696.21 455.41 L697.50 455.40 L698.80 455.41 L700.09 455.44 L701.39 455.47 L702.69 455.51 L703.99 455.55 L705.28 455.59 L706.58 455.61 L707.88 455.62 L709.17 455.61 L710.46 455.57 L711.75 455.50 M711.75 455.50 L713.05 455.39 L714.35 455.24 L715.65 455.05 L716.95 454.83 L718.25 454.60 L719.54 454.36 L720.84 454.11 L722.13 453.88 L723.42 453.66 L724.72 453.46 L726.01 453.30 L727.30 453.18 L728.59 453.11 L729.89 453.10 M729.89 453.10 L731.18 453.15 L732.48 453.26 L733.78 453.41 L735.07 453.60 L736.36 453.82 L737.66 454.07 L738.95 454.34 L740.24 454.62 L741.54 454.90 L742.83 455.18 L744.12 455.44 L745.42 455.69 L746.72 455.91 L748.02 456.10 M748.02 456.10 L749.31 456.26 L750.60 456.41 L751.89 456.56 L753.19 456.70 L754.48 456.83 L755.78 456.95 L757.07 457.07 L758.37 457.18 L759.67 457.29 L760.96 457.39 L762.26 457.50 L763.56 457.60 L764.86 457.70 L766.15 457.80 M766.15 457.80 L767.45 457.89 L768.74 457.98 L770.04 458.06 L771.33 458.13 L772.63 458.19 L773.93 458.26 L775.22 458.32 L776.52 458.38 L777.82 458.45 L779.11 458.52 L780.41 458.60 L781.70 458.69 L782.99 458.79 L784.29 458.90 M784.29 458.90 L785.58 459.02 L786.88 459.15 L788.18 459.28 L789.48 459.41 L790.78 459.56 L792.07 459.71 L793.37 459.86 L794.67 460.02 L795.96 460.18 L797.25 460.35 L798.55 460.53 L799.84 460.72 L801.13 460.90 L802.42 461.10 M802.42 461.10 L803.72 461.31 L805.02 461.55 L806.31 461.81 L807.61 462.07 L808.90 462.35 L810.19 462.64 L811.48 462.92 L812.77 463.20 L814.06 463.46 L815.36 463.72 L816.65 463.95 L817.95 464.16 L819.25 464.35 L820.55 464.50 M820.55 464.50 L822.39 464.63 L824.24 464.66 L826.10 464.60 L827.97 464.48 L829.84 464.31 L831.71 464.13 L833.59 463.93 L835.45 463.75 L837.32 463.61 L839.17 463.52 L841.02 463.51 L842.85 463.58 L844.66 463.78 L846.46 464.10 M846.46 464.10 L847.21 464.28 L847.95 464.49 L848.69 464.72 L849.43 464.97 L850.17 465.23 L850.90 465.50 L851.63 465.77 L852.37 466.05 L853.10 466.32 L853.84 466.59 L854.58 466.84 L855.32 467.08 L856.07 467.30 L856.82 467.50 M856.82 467.50 L858.08 467.78 L859.36 467.99 L860.65 468.16 L861.95 468.29 L863.26 468.39 L864.57 468.46 L865.88 468.53 L867.19 468.60 L868.50 468.67 L869.81 468.76 L871.11 468.88 L872.40 469.04 L873.68 469.24 L874.95 469.50 M874.95 469.50 L876.28 469.86 L877.59 470.30 L878.90 470.82 L880.20 471.40 L881.49 472.00 L882.77 472.63 L884.05 473.25 L885.34 473.86 L886.62 474.43 L887.90 474.95 L889.19 475.39 L890.48 475.74 L891.78 475.98 L893.08 476.10 M893.08 476.10 L894.36 476.08 L895.65 475.96 L896.93 475.73 L898.22 475.42 L899.50 475.04 L900.80 474.61 L902.09 474.14 L903.39 473.66 L904.68 473.16 L905.98 472.67 L907.29 472.21 L908.59 471.78 L909.90 471.40 L911.22 471.10 M911.22 471.10 L912.50 470.86 L913.79 470.66 L915.08 470.48 L916.38 470.33 L917.69 470.20 L918.99 470.07 L920.30 469.95 L921.60 469.83 L922.91 469.70 L924.21 469.55 L925.50 469.39 L926.79 469.19 L928.08 468.97 L929.35 468.70 M929.35 468.70 L930.67 468.37 L931.97 467.97 L933.27 467.53 L934.56 467.05 L935.85 466.55 L937.13 466.03 L938.41 465.51 L939.69 465.00 L940.97 464.50 L942.25 464.04 L943.55 463.61 L944.85 463.24 L946.16 462.93 L947.48 462.70 M947.48 462.70 L948.75 462.56 L950.03 462.50 L951.33 462.51 L952.63 462.56 L953.93 462.66 L955.24 462.78 L956.56 462.92 L957.87 463.05 L959.18 463.17 L960.48 463.27 L961.78 463.32 L963.07 463.32 L964.35 463.25 L965.62 463.10 M965.62 463.10 L966.94 462.85 L968.26 462.53 L969.56 462.14 L970.86 461.70 L972.14 461.22 L973.43 460.71 L974.71 460.17 L975.98 459.62 L977.26 459.07 L978.55 458.54 L979.83 458.02 L981.13 457.53 L982.43 457.09 L983.75 456.70 M983.75 456.70 L985.02 456.35 L986.30 456.01 L987.58 455.67 L988.87 455.34 L990.16 455.01 L991.46 454.71 L992.75 454.41 L994.05 454.14 L995.36 453.89 L996.66 453.67 L997.96 453.48 L999.27 453.32 L1000.58 453.19 L1001.88 453.10 M1001.88 453.10 L1003.17 453.06 L1004.46 453.08 L1005.75 453.15 L1007.04 453.26 L1008.34 453.40 L1009.63 453.57 L1010.93 453.74 L1012.23 453.93 L1013.52 454.11 L1014.82 454.28 L1016.12 454.44 L1017.42 454.56 L1018.72 454.65 L1020.01 454.70 M1020.01 454.70 L1021.31 454.71 L1022.60 454.69 L1023.90 454.65 L1025.19 454.59 L1026.49 454.52 L1027.78 454.43 L1029.08 454.34 L1030.37 454.24 L1031.67 454.13 L1032.96 454.03 L1034.26 453.93 L1035.56 453.84 L1036.85 453.77 L1038.15 453.70 M1038.15 453.70 L1039.45 453.66 L1040.75 453.65 L1042.06 453.66 L1043.37 453.69 L1044.68 453.72 L1045.99 453.75 L1047.30 453.78 L1048.61 453.79 L1049.91 453.77 L1051.21 453.73 L1052.49 453.65 L1053.77 453.52 L1055.03 453.34 L1056.28 453.10 M1056.28 453.10 L1057.63 452.76 L1058.96 452.35 L1060.27 451.88 L1061.58 451.35 L1062.87 450.77 L1064.15 450.16 L1065.43 449.52 L1066.71 448.87 L1067.98 448.21 L1069.26 447.55 L1070.54 446.90 L1071.82 446.26 L1073.11 445.66 L1074.41 445.10 M1074.41 445.10 L1075.70 444.57 L1076.98 444.03 L1078.26 443.50 L1079.55 442.97 L1080.83 442.44 L1082.12 441.91 L1083.41 441.39 L1084.70 440.88 L1086.00 440.38 L1087.30 439.90 L1088.60 439.42 L1089.91 438.96 L1091.23 438.52 L1092.55 438.10 M1092.55 438.10 L1093.82 437.71 L1095.10 437.34 L1096.38 436.98 L1097.67 436.64 L1098.96 436.30 L1100.25 435.98 L1101.55 435.67 L1102.85 435.37 L1104.15 435.08 L1105.46 434.79 L1106.76 434.51 L1108.07 434.24 L1109.37 433.97 L1110.68 433.70 M1110.68 433.70 L1111.97 433.42 L1113.26 433.13 L1114.56 432.81 L1115.86 432.50 L1117.16 432.18 L1118.47 431.87 L1119.77 431.58 L1121.07 431.31 L1122.37 431.08 L1123.67 430.89 L1124.97 430.75 L1126.25 430.67 L1127.54 430.65 L1128.81 430.70 M1128.81 430.70 L1130.13 430.86 L1131.43 431.12 L1132.73 431.48 L1134.02 431.92 L1135.30 432.41 L1136.58 432.94 L1137.86 433.50 L1139.14 434.07 L1140.43 434.63 L1141.71 435.16 L1143.01 435.65 L1144.31 436.08 L1145.62 436.44 L1146.94 436.70 M1146.94 436.70 L1148.21 436.87 L1149.49 436.99 L1150.77 437.07 L1152.06 437.10 L1153.35 437.11 L1154.65 437.09 L1155.96 437.05 L1157.26 436.99 L1158.56 436.93 L1159.87 436.86 L1161.18 436.80 L1162.48 436.75 L1163.78 436.71 L1165.08 436.70 M1165.08 436.70 L1166.37 436.69 L1167.67 436.66 L1168.97 436.62 L1170.27 436.58 L1171.57 436.53 L1172.88 436.48 L1174.18 436.44 L1175.47 436.41 L1176.77 436.39 L1178.07 436.39 L1179.36 436.42 L1180.65 436.48 L1181.93 436.57 L1183.21 436.70 M1183.21 436.70 L1184.52 436.90 L1185.84 437.20 L1187.15 437.56 L1188.46 437.98 L1189.77 438.43 L1191.08 438.89 L1192.38 439.36 L1193.68 439.81 L1194.98 440.22 L1196.26 440.57 L1197.54 440.86 L1198.82 441.05 L1200.09 441.14 L1201.34 441.10 M1201.34 441.10 L1202.68 440.88 L1204.00 440.48 L1205.30 439.93 L1206.60 439.25 L1207.88 438.49 L1209.16 437.66 L1210.44 436.81 L1211.72 435.96 L1212.99 435.15 L1214.27 434.40 L1215.56 433.75 L1216.85 433.23 L1218.16 432.87 L1219.48 432.70 M1219.48 432.70 L1220.75 432.73 L1222.02 432.94 L1223.31 433.29 L1224.60 433.76 L1225.89 434.31 L1227.19 434.92 L1228.49 435.57 L1229.79 436.23 L1231.09 436.86 L1232.40 437.44 L1233.70 437.94 L1235.01 438.34 L1236.31 438.60 L1237.61 438.70 M1237.61 438.70 L1238.90 438.64 L1240.19 438.45 L1241.47 438.16 L1242.76 437.77 L1244.04 437.32 L1245.33 436.81 L1246.61 436.26 L1247.90 435.70 L1249.20 435.15 L1250.50 434.62 L1251.80 434.13 L1253.11 433.70 L1254.42 433.35 L1255.74 433.10 M1255.74 433.10 L1257.01 432.95 L1258.30 432.86 L1259.58 432.83 L1260.88 432.84 L1262.18 432.89 L1263.48 432.96 L1264.79 433.04 L1266.10 433.12 L1267.40 433.20 L1268.71 433.25 L1270.01 433.28 L1271.30 433.28 L1272.59 433.22 L1273.88 433.10 M1273.88 433.10 L1275.19 432.92 L1276.49 432.70 L1277.79 432.44 L1279.09 432.15 L1280.39 431.84 L1281.68 431.50 L1282.97 431.15 L1284.26 430.79 L1285.55 430.42 L1286.84 430.05 L1288.13 429.69 L1289.42 429.34 L1290.71 429.01 L1292.01 428.70 M1292.01 428.70 L1293.19 428.42 L1294.36 428.12 L1295.54 427.81 L1296.72 427.49 L1297.90 427.17 L1299.08 426.86 L1300.25 426.55 L1301.43 426.26 L1302.62 425.99 L1303.80 425.74 L1304.98 425.52 L1306.17 425.34 L1307.35 425.20 L1308.54 425.10 M1308.54 425.10 L1309.94 425.05 L1311.34 425.07 L1312.75 425.14 L1314.15 425.26 L1315.56 425.43 L1316.97 425.63 L1318.39 425.85 L1319.80 426.10 L1321.21 426.35 L1322.63 426.61 L1324.04 426.86 L1325.45 427.09 L1326.86 427.31 L1328.27 427.50 M1328.27 427.50 L1329.57 427.66 L1330.86 427.83 L1332.16 427.99 L1333.45 428.16 L1334.75 428.34 L1336.04 428.51 L1337.33 428.68 L1338.63 428.84 L1339.92 429.00 L1341.22 429.16 L1342.51 429.31 L1343.81 429.45 L1345.11 429.58 L1346.41 429.70 M1346.41 429.70 L1347.70 429.81 L1348.99 429.93 L1350.29 430.04 L1351.58 430.14 L1352.88 430.24 L1354.17 430.34 L1355.47 430.42 L1356.77 430.50 L1358.06 430.57 L1359.36 430.62 L1360.65 430.67 L1361.95 430.69 L1363.25 430.71 L1364.54 430.70 M1364.54 430.70 L1365.84 430.66 L1367.14 430.58 L1368.43 430.46 L1369.73 430.32 L1371.03 430.15 L1372.33 429.98 L1373.63 429.81 L1374.93 429.65 L1376.23 429.50 L1377.52 429.37 L1378.81 429.28 L1380.10 429.24 L1381.39 429.24 L1382.67 429.30 M1382.67 429.30 L1383.98 429.44 L1385.28 429.65 L1386.58 429.91 L1387.87 430.23 L1389.16 430.59 L1390.45 430.97 L1391.74 431.36 L1393.02 431.76 L1394.31 432.14 L1395.60 432.50 L1396.90 432.83 L1398.19 433.12 L1399.50 433.34 L1400.81 433.50 M1400.81 433.50 L1402.09 433.58 L1403.38 433.60 L1404.67 433.56 L1405.97 433.48 L1407.27 433.37 L1408.57 433.23 L1409.88 433.09 L1411.18 432.95 L1412.48 432.81 L1413.78 432.70 L1415.08 432.63 L1416.37 432.59 L1417.66 432.61 L1418.94 432.70 M1418.94 432.70 L1420.25 432.87 L1421.55 433.11 L1422.85 433.41 L1424.15 433.76 L1425.44 434.15 L1426.72 434.56 L1428.01 434.98 L1429.30 435.39 L1430.59 435.79 L1431.88 436.16 L1433.17 436.49 L1434.46 436.77 L1435.76 436.97 L1437.07 437.10 M1437.07 437.10 L1438.35 437.15 L1439.64 437.14 L1440.93 437.07 L1442.22 436.97 L1443.52 436.82 L1444.81 436.65 L1446.11 436.45 L1447.41 436.24 L1448.71 436.03 L1450.01 435.81 L1451.31 435.60 L1452.61 435.41 L1453.91 435.24 L1455.20 435.10 M1455.20 435.10 L1456.50 434.98 L1457.79 434.87 L1459.09 434.76 L1460.38 434.65 L1461.68 434.55 L1462.97 434.45 L1464.27 434.35 L1465.56 434.25 L1466.86 434.16 L1468.15 434.07 L1469.45 433.98 L1470.75 433.88 L1472.04 433.79 L1473.34 433.70 M1473.34 433.70 L1474.63 433.59 L1475.94 433.46 L1477.24 433.31 L1478.54 433.14 L1479.85 432.97 L1481.16 432.81 L1482.46 432.66 L1483.76 432.52 L1485.06 432.41 L1486.36 432.33 L1487.65 432.30 L1488.93 432.31 L1490.20 432.37 L1491.47 432.50 M1491.47 432.50 L1492.79 432.73 L1494.11 433.05 L1495.41 433.47 L1496.70 433.95 L1497.98 434.48 L1499.26 435.05 L1500.54 435.63 L1501.82 436.21 L1503.10 436.77 L1504.38 437.29 L1505.67 437.77 L1506.97 438.17 L1508.28 438.49 L1509.60 438.70 M1509.60 438.70 L1510.87 438.81 L1512.15 438.84 L1513.43 438.81 L1514.72 438.73 L1516.01 438.60 L1517.31 438.44 L1518.61 438.26 L1519.91 438.06 L1521.22 437.85 L1522.52 437.65 L1523.83 437.47 L1525.13 437.31 L1526.44 437.18 L1527.74 437.10 M1527.74 437.10 L1529.03 437.06 L1530.33 437.06 L1531.63 437.08 L1532.93 437.12 L1534.23 437.18 L1535.54 437.24 L1536.84 437.30 L1538.14 437.35 L1539.44 437.38 L1540.73 437.40 L1542.02 437.38 L1543.31 437.33 L1544.59 437.24 L1545.87 437.10 M1545.87 437.10 L1547.18 436.88 L1548.49 436.59 L1549.79 436.24 L1551.08 435.85 L1552.37 435.41 L1553.66 434.96 L1554.94 434.50 L1556.22 434.04 L1557.51 433.60 L1558.80 433.18 L1560.09 432.82 L1561.39 432.50 L1562.69 432.26 L1564.00 432.10 M1564.00 432.10 L1565.28 432.03 L1566.57 432.04 L1567.85 432.12 L1569.15 432.24 L1570.45 432.41 L1571.75 432.61 L1573.05 432.82 L1574.35 433.04 L1575.66 433.25 L1576.96 433.43 L1578.26 433.58 L1579.55 433.68 L1580.85 433.73 L1582.14 433.70 M1582.14 433.70 L1583.44 433.59 L1584.74 433.41 L1586.04 433.17 L1587.33 432.89 L1588.62 432.57 L1589.91 432.23 L1591.20 431.88 L1592.49 431.52 L1593.79 431.18 L1595.08 430.87 L1596.37 430.59 L1597.67 430.36 L1598.97 430.20 L1600.27 430.10 M1600.27 430.10 L1601.56 430.08 L1602.85 430.12 L1604.14 430.22 L1605.43 430.36 L1606.72 430.53 L1608.02 430.73 L1609.31 430.94 L1610.61 431.16 L1611.91 431.38 L1613.21 431.59 L1614.51 431.77 L1615.80 431.92 L1617.10 432.04 L1618.40 432.10 M1618.40 432.10 L1619.70 432.10 L1620.99 432.06 L1622.30 431.96 L1623.60 431.84 L1624.91 431.69 L1626.21 431.53 L1627.52 431.37 L1628.82 431.22 L1630.12 431.09 L1631.41 430.99 L1632.70 430.93 L1633.99 430.92 L1635.27 430.97 L1636.53 431.10 M1636.53 431.10 L1637.79 431.31 L1639.03 431.61 L1640.27 431.98 L1641.50 432.41 L1642.72 432.88 L1643.94 433.38 L1645.15 433.90 L1646.37 434.41 L1647.59 434.91 L1648.81 435.39 L1650.03 435.82 L1651.27 436.19 L1652.51 436.49 L1653.77 436.70 M1653.77 436.70 L1655.10 436.84 L1656.44 436.91 L1657.78 436.92 L1659.14 436.89 L1660.50 436.81 L1661.86 436.69 L1663.23 436.55 L1664.59 436.40 L1665.96 436.23 L1667.34 436.05 L1668.70 435.89 L1670.07 435.74 L1671.44 435.60 L1672.80 435.50 L1674.79 435.35" fill="none" stroke="#4E9B35" stroke-width="6.30" stroke-linecap="butt" stroke-linejoin="round"/>
<circle cx="331.86" cy="444.70" r="3.15" fill="#4E9B35"/>
<path d="M132.47 439.85 L132.79 439.77 L134.09 439.42 L135.38 439.06 L136.67 438.68 L137.96 438.30 L139.24 437.93 L140.53 437.56 L141.83 437.20 L143.12 436.87 L144.42 436.56 L145.71 436.28 L146.86 436.07 M152.43 435.57 L153.49 435.56 L154.78 435.59 L156.07 435.66 L157.37 435.74 L158.67 435.85 L159.97 435.97 L161.27 436.10 L162.57 436.23 L163.87 436.37 L164.98 436.47 M170.55 436.96 L171.67 437.10 L172.97 437.27 L174.28 437.46 L175.58 437.64 L176.89 437.81 L178.19 437.96 L179.49 438.10 L180.78 438.19 L182.07 438.25 L183.10 438.26 M188.65 437.58 L189.83 437.26 L191.12 436.84 L192.41 436.38 L193.69 435.88 L194.97 435.36 L196.25 434.82 L197.53 434.29 L198.82 433.78 L200.11 433.29 L201.34 432.86 M206.77 431.50 L207.87 431.27 L209.16 431.01 L210.46 430.77 L211.76 430.54 L213.06 430.34 L214.36 430.15 L215.67 430.00 L216.97 429.87 L218.28 429.78 L219.37 429.72 M224.96 429.87 L226.08 429.98 L227.39 430.14 L228.70 430.33 L230.00 430.56 L231.31 430.81 L232.61 431.08 L233.91 431.38 L235.20 431.69 L236.49 432.03 L237.61 432.33 M242.95 434.00 L244.25 434.51 L245.54 435.06 L246.82 435.64 L248.10 436.23 L249.38 436.83 L250.65 437.44 L251.93 438.04 L253.21 438.63 L254.50 439.20 L255.80 439.74 L255.80 439.74 M261.12 441.49 L262.27 441.78 L263.57 442.09 L264.87 442.38 L266.18 442.66 L267.49 442.93 L268.79 443.20 L270.10 443.47 L271.41 443.76 L272.71 444.06 L273.87 444.34 M279.18 446.09 L279.19 446.09 L280.50 446.68 L281.79 447.32 L283.09 447.97 L284.38 448.64 L285.67 449.29 L286.95 449.92 L288.24 450.50 L289.52 451.02 L290.81 451.45 L291.92 451.74 M297.47 451.78 L298.55 451.51 L299.83 451.08 L301.11 450.57 L302.40 450.00 L303.68 449.38 L304.97 448.75 L306.26 448.12 L307.56 447.51 L308.87 446.95 L310.18 446.44 L311.50 446.02 L312.44 445.79 M332.36 444.64 L333.55 444.58 L334.85 444.52 L336.14 444.45 L337.44 444.39 L338.73 444.33 L340.03 444.28 L341.32 444.22 L342.62 444.18 L343.92 444.14 L345.21 444.12 L346.30 444.10 M351.89 444.17 L352.98 444.22 L354.28 444.29 L355.57 444.36 L356.87 444.45 L358.16 444.54 L359.46 444.63 L360.75 444.72 L362.05 444.81 L363.34 444.90 L364.43 444.96 M370.03 445.14 L371.13 445.12 L372.44 445.09 L373.75 445.06 L375.05 445.02 L376.36 444.99 L377.66 444.97 L378.96 444.97 L380.26 444.99 L381.54 445.05 L382.59 445.13 M388.07 446.22 L389.31 446.67 L390.60 447.21 L391.89 447.80 L393.17 448.41 L394.44 449.03 L395.72 449.64 L397.00 450.22 L398.28 450.76 L399.57 451.23 L400.74 451.59 M406.29 452.04 L407.34 451.90 L408.63 451.65 L409.94 451.34 L411.24 451.00 L412.55 450.63 L413.86 450.26 L415.17 449.91 L416.47 449.59 L417.77 449.34 L418.83 449.19 M424.39 449.56 L425.54 449.88 L426.83 450.32 L428.12 450.81 L429.40 451.34 L430.68 451.90 L431.96 452.47 L433.24 453.03 L434.53 453.56 L435.82 454.05 L437.04 454.46 M442.54 455.42 L443.59 455.50 L444.88 455.55 L446.17 455.57 L447.47 455.57 L448.77 455.55 L450.08 455.50 L451.39 455.44 L452.69 455.38 L454.00 455.31 L455.10 455.24 M460.69 454.91 L461.78 454.81 L463.08 454.67 L464.37 454.52 L465.67 454.36 L466.96 454.20 L468.26 454.05 L469.55 453.90 L470.85 453.77 L472.14 453.66 L473.23 453.59 M478.82 453.60 L479.91 453.69 L481.21 453.81 L482.50 453.96 L483.80 454.12 L485.09 454.29 L486.39 454.46 L487.68 454.62 L488.98 454.77 L490.27 454.90 L491.36 454.98 M496.96 455.09 L498.06 455.07 L499.36 455.03 L500.66 454.98 L501.97 454.91 L503.27 454.83 L504.57 454.73 L505.87 454.61 L507.16 454.47 L508.45 454.31 L509.53 454.16 M515.00 453.01 L516.22 452.60 L517.52 452.12 L518.81 451.61 L520.10 451.08 L521.38 450.55 L522.67 450.04 L523.95 449.55 L525.24 449.11 L526.53 448.73 L527.65 448.46 M533.22 448.28 L534.28 448.46 L535.57 448.77 L536.86 449.13 L538.16 449.53 L539.46 449.96 L540.75 450.39 L542.05 450.81 L543.35 451.20 L544.65 451.54 L545.78 451.78 M551.35 451.96 L552.43 451.81 L553.72 451.58 L555.02 451.31 L556.31 451.00 L557.61 450.68 L558.91 450.36 L560.20 450.04 L561.50 449.75 L562.80 449.50 L563.90 449.32 M569.49 449.23 L570.57 449.35 L571.86 449.53 L573.15 449.75 L574.45 449.99 L575.74 450.25 L577.04 450.52 L578.33 450.78 L579.63 451.03 L580.93 451.26 L582.04 451.42 M587.62 451.72 L588.71 451.68 L590.01 451.59 L591.32 451.49 L592.62 451.37 L593.92 451.24 L595.23 451.13 L596.53 451.03 L597.82 450.95 L599.12 450.91 L600.16 450.92 M605.70 451.64 L606.88 451.98 L608.17 452.40 L609.46 452.86 L610.74 453.35 L612.03 453.85 L613.31 454.35 L614.59 454.84 L615.88 455.29 L617.17 455.69 L618.34 456.01 M623.89 456.57 L624.94 456.52 L626.24 456.39 L627.54 456.23 L628.84 456.03 L630.15 455.82 L631.46 455.61 L632.76 455.41 L634.06 455.24 L635.36 455.11 L636.42 455.05 M641.98 455.57 L643.14 455.87 L644.43 456.27 L645.72 456.71 L647.01 457.18 L648.30 457.66 L649.58 458.14 L650.87 458.60 L652.15 459.03 L653.45 459.41 L654.59 459.69 M660.15 460.12 L661.21 460.06 L662.50 459.93 L663.79 459.76 L665.09 459.56 L666.39 459.34 L667.69 459.09 L668.99 458.84 L670.29 458.58 L671.59 458.33 L672.72 458.13 M678.26 457.33 L679.37 457.18 L680.66 456.99 L681.96 456.81 L683.25 456.63 L684.54 456.45 L685.84 456.28 L687.13 456.11 L688.43 455.96 L689.73 455.82 L690.83 455.72 M696.42 455.41 L697.50 455.40 L698.80 455.41 L700.09 455.44 L701.39 455.47 L702.69 455.51 L703.99 455.55 L705.28 455.59 L706.58 455.61 L707.88 455.62 L708.96 455.61 M714.54 455.21 L715.65 455.05 L716.95 454.83 L718.25 454.60 L719.54 454.36 L720.84 454.11 L722.13 453.88 L723.42 453.66 L724.72 453.46 L726.01 453.30 L727.09 453.20 M732.68 453.28 L733.78 453.41 L735.07 453.60 L736.36 453.82 L737.66 454.07 L738.95 454.34 L740.24 454.62 L741.54 454.90 L742.83 455.18 L744.12 455.44 L745.26 455.66 M750.80 456.44 L751.89 456.56 L753.19 456.70 L754.48 456.83 L755.78 456.95 L757.07 457.07 L758.37 457.18 L759.67 457.29 L760.96 457.39 L762.26 457.50 L763.36 457.58 M768.95 457.99 L770.04 458.06 L771.33 458.13 L772.63 458.19 L773.93 458.26 L775.22 458.32 L776.52 458.38 L777.82 458.45 L779.11 458.52 L780.41 458.60 L781.49 458.68 M787.07 459.17 L788.18 459.28 L789.48 459.41 L790.78 459.56 L792.07 459.71 L793.37 459.86 L794.67 460.02 L795.96 460.18 L797.25 460.35 L798.55 460.53 L799.65 460.69 M805.18 461.58 L806.31 461.81 L807.61 462.07 L808.90 462.35 L810.19 462.64 L811.48 462.92 L812.77 463.20 L814.06 463.46 L815.36 463.72 L816.65 463.95 L817.78 464.14 M823.35 464.64 L824.24 464.66 L826.10 464.60 L827.97 464.48 L829.84 464.31 L831.71 464.13 L833.59 463.93 L835.45 463.75 L837.32 463.61 L839.17 463.52 L841.02 463.51 L842.85 463.58 L843.69 463.67 M849.15 464.87 L849.43 464.97 L850.17 465.23 L850.90 465.50 L851.63 465.77 L852.37 466.05 L853.10 466.32 L853.84 466.59 L854.14 466.69 M859.57 468.02 L860.65 468.16 L861.95 468.29 L863.26 468.39 L864.57 468.46 L865.88 468.53 L867.19 468.60 L868.50 468.67 L869.81 468.76 L871.11 468.88 L872.19 469.01 M877.63 470.32 L878.90 470.82 L880.20 471.40 L881.49 472.00 L882.77 472.63 L884.05 473.25 L885.34 473.86 L886.62 474.43 L887.90 474.95 L889.19 475.39 L890.32 475.70 M895.87 475.92 L896.93 475.73 L898.22 475.42 L899.50 475.04 L900.80 474.61 L902.09 474.14 L903.39 473.66 L904.68 473.16 L905.98 472.67 L907.29 472.21 L908.51 471.81 M913.98 470.63 L915.08 470.48 L916.38 470.33 L917.69 470.20 L918.99 470.07 L920.30 469.95 L921.60 469.83 L922.91 469.70 L924.21 469.55 L925.50 469.39 L926.60 469.22 M932.05 467.95 L933.27 467.53 L934.56 467.05 L935.85 466.55 L937.13 466.03 L938.41 465.51 L939.69 465.00 L940.97 464.50 L942.25 464.04 L943.55 463.61 L944.74 463.27 M950.27 462.50 L951.33 462.51 L952.63 462.56 L953.93 462.66 L955.24 462.78 L956.56 462.92 L957.87 463.05 L959.18 463.17 L960.48 463.27 L961.78 463.32 L962.83 463.32 M968.35 462.50 L969.56 462.14 L970.86 461.70 L972.14 461.22 L973.43 460.71 L974.71 460.17 L975.98 459.62 L977.26 459.07 L978.55 458.54 L979.83 458.02 L981.08 457.55 M986.45 455.97 L987.58 455.67 L988.87 455.34 L990.16 455.01 L991.46 454.71 L992.75 454.41 L994.05 454.14 L995.36 453.89 L996.66 453.67 L997.96 453.48 L999.09 453.34 M1004.68 453.10 L1005.75 453.15 L1007.04 453.26 L1008.34 453.40 L1009.63 453.57 L1010.93 453.74 L1012.23 453.93 L1013.52 454.11 L1014.82 454.28 L1016.12 454.44 L1017.22 454.54 M1022.81 454.68 L1023.90 454.65 L1025.19 454.59 L1026.49 454.52 L1027.78 454.43 L1029.08 454.34 L1030.37 454.24 L1031.67 454.13 L1032.96 454.03 L1034.26 453.93 L1035.35 453.86 M1040.95 453.65 L1042.06 453.66 L1043.37 453.69 L1044.68 453.72 L1045.99 453.75 L1047.30 453.78 L1048.61 453.79 L1049.91 453.77 L1051.21 453.73 L1052.49 453.65 L1053.52 453.54 M1058.98 452.35 L1060.27 451.88 L1061.58 451.35 L1062.87 450.77 L1064.15 450.16 L1065.43 449.52 L1066.71 448.87 L1067.98 448.21 L1069.26 447.55 L1070.54 446.90 L1071.82 446.26 L1071.86 446.25 M1077.00 444.03 L1078.26 443.50 L1079.55 442.97 L1080.83 442.44 L1082.12 441.91 L1083.41 441.39 L1084.70 440.88 L1086.00 440.38 L1087.30 439.90 L1088.60 439.42 L1089.89 438.97 M1095.23 437.30 L1096.38 436.98 L1097.67 436.64 L1098.96 436.30 L1100.25 435.98 L1101.55 435.67 L1102.85 435.37 L1104.15 435.08 L1105.46 434.79 L1106.76 434.51 L1107.94 434.26 M1113.41 433.09 L1114.56 432.81 L1115.86 432.50 L1117.16 432.18 L1118.47 431.87 L1119.77 431.58 L1121.07 431.31 L1122.37 431.08 L1123.67 430.89 L1124.97 430.75 L1126.01 430.68 M1131.57 431.16 L1132.73 431.48 L1134.02 431.92 L1135.30 432.41 L1136.58 432.94 L1137.86 433.50 L1139.14 434.07 L1140.43 434.63 L1141.71 435.16 L1143.01 435.65 L1144.22 436.06 M1149.73 437.01 L1150.77 437.07 L1152.06 437.10 L1153.35 437.11 L1154.65 437.09 L1155.96 437.05 L1157.26 436.99 L1158.56 436.93 L1159.87 436.86 L1161.18 436.80 L1162.28 436.76 M1167.88 436.66 L1168.97 436.62 L1170.27 436.58 L1171.57 436.53 L1172.88 436.48 L1174.18 436.44 L1175.47 436.41 L1176.77 436.39 L1178.07 436.39 L1179.36 436.42 L1180.42 436.47 M1185.96 437.23 L1187.15 437.56 L1188.46 437.98 L1189.77 438.43 L1191.08 438.89 L1192.38 439.36 L1193.68 439.81 L1194.98 440.22 L1196.26 440.57 L1197.54 440.86 L1198.55 441.01 M1204.06 440.45 L1205.30 439.93 L1206.60 439.25 L1207.88 438.49 L1209.16 437.66 L1210.44 436.81 L1211.72 435.96 L1212.99 435.15 L1214.27 434.40 L1215.56 433.75 L1216.74 433.27 M1222.25 433.00 L1223.31 433.29 L1224.60 433.76 L1225.89 434.31 L1227.19 434.92 L1228.49 435.57 L1229.79 436.23 L1231.09 436.86 L1232.40 437.44 L1233.70 437.94 L1234.85 438.29 M1240.39 438.41 L1241.47 438.16 L1242.76 437.77 L1244.04 437.32 L1245.33 436.81 L1246.61 436.26 L1247.90 435.70 L1249.20 435.15 L1250.50 434.62 L1251.80 434.13 L1253.02 433.73 M1258.53 432.86 L1259.58 432.83 L1260.88 432.84 L1262.18 432.89 L1263.48 432.96 L1264.79 433.04 L1266.10 433.12 L1267.40 433.20 L1268.71 433.25 L1270.01 433.28 L1271.08 433.28 M1276.64 432.67 L1277.79 432.44 L1279.09 432.15 L1280.39 431.84 L1281.68 431.50 L1282.97 431.15 L1284.26 430.79 L1285.55 430.42 L1286.84 430.05 L1288.13 429.69 L1289.29 429.38 M1294.73 428.03 L1295.54 427.81 L1296.72 427.49 L1297.90 427.17 L1299.08 426.86 L1300.25 426.55 L1301.43 426.26 L1302.62 425.99 L1303.80 425.74 L1304.98 425.52 L1305.76 425.40 M1311.34 425.07 L1311.34 425.07 L1312.75 425.14 L1314.15 425.26 L1315.56 425.43 L1316.97 425.63 L1318.39 425.85 L1319.80 426.10 L1321.21 426.35 L1322.63 426.61 L1324.04 426.86 L1325.45 427.09 L1325.50 427.10 M1331.05 427.85 L1332.16 427.99 L1333.45 428.16 L1334.75 428.34 L1336.04 428.51 L1337.33 428.68 L1338.63 428.84 L1339.92 429.00 L1341.22 429.16 L1342.51 429.31 L1343.62 429.43 M1349.20 429.94 L1350.29 430.04 L1351.58 430.14 L1352.88 430.24 L1354.17 430.34 L1355.47 430.42 L1356.77 430.50 L1358.06 430.57 L1359.36 430.62 L1360.65 430.67 L1361.74 430.69 M1367.34 430.56 L1368.43 430.46 L1369.73 430.32 L1371.03 430.15 L1372.33 429.98 L1373.63 429.81 L1374.93 429.65 L1376.23 429.50 L1377.52 429.37 L1378.81 429.28 L1379.87 429.24 M1385.45 429.68 L1386.58 429.91 L1387.87 430.23 L1389.16 430.59 L1390.45 430.97 L1391.74 431.36 L1393.02 431.76 L1394.31 432.14 L1395.60 432.50 L1396.90 432.83 L1398.04 433.08 M1403.60 433.59 L1404.67 433.56 L1405.97 433.48 L1407.27 433.37 L1408.57 433.23 L1409.88 433.09 L1411.18 432.95 L1412.48 432.81 L1413.78 432.70 L1415.08 432.63 L1416.14 432.60 M1421.70 433.14 L1422.85 433.41 L1424.15 433.76 L1425.44 434.15 L1426.72 434.56 L1428.01 434.98 L1429.30 435.39 L1430.59 435.79 L1431.88 436.16 L1433.17 436.49 L1434.30 436.73 M1439.87 437.12 L1440.93 437.07 L1442.22 436.97 L1443.52 436.82 L1444.81 436.65 L1446.11 436.45 L1447.41 436.24 L1448.71 436.03 L1450.01 435.81 L1451.31 435.60 L1452.43 435.44 M1457.99 434.85 L1459.09 434.76 L1460.38 434.65 L1461.68 434.55 L1462.97 434.45 L1464.27 434.35 L1465.56 434.25 L1466.86 434.16 L1468.15 434.07 L1469.45 433.98 L1470.54 433.90 M1476.12 433.44 L1477.24 433.31 L1478.54 433.14 L1479.85 432.97 L1481.16 432.81 L1482.46 432.66 L1483.76 432.52 L1485.06 432.41 L1486.36 432.33 L1487.65 432.30 L1488.68 432.31 M1494.21 433.09 L1495.41 433.47 L1496.70 433.95 L1497.98 434.48 L1499.26 435.05 L1500.54 435.63 L1501.82 436.21 L1503.10 436.77 L1504.38 437.29 L1505.67 437.77 L1506.86 438.14 M1512.40 438.83 L1513.43 438.81 L1514.72 438.73 L1516.01 438.60 L1517.31 438.44 L1518.61 438.26 L1519.91 438.06 L1521.22 437.85 L1522.52 437.65 L1523.83 437.47 L1524.95 437.33 M1530.54 437.06 L1531.63 437.08 L1532.93 437.12 L1534.23 437.18 L1535.54 437.24 L1536.84 437.30 L1538.14 437.35 L1539.44 437.38 L1540.73 437.40 L1542.02 437.38 L1543.08 437.34 M1548.62 436.56 L1549.79 436.24 L1551.08 435.85 L1552.37 435.41 L1553.66 434.96 L1554.94 434.50 L1556.22 434.04 L1557.51 433.60 L1558.80 433.18 L1560.09 432.82 L1561.24 432.54 M1566.80 432.05 L1567.85 432.12 L1569.15 432.24 L1570.45 432.41 L1571.75 432.61 L1573.05 432.82 L1574.35 433.04 L1575.66 433.25 L1576.96 433.43 L1578.26 433.58 L1579.34 433.67 M1584.92 433.38 L1586.04 433.17 L1587.33 432.89 L1588.62 432.57 L1589.91 432.23 L1591.20 431.88 L1592.49 431.52 L1593.79 431.18 L1595.08 430.87 L1596.37 430.59 L1597.49 430.40 M1603.07 430.14 L1604.14 430.22 L1605.43 430.36 L1606.72 430.53 L1608.02 430.73 L1609.31 430.94 L1610.61 431.16 L1611.91 431.38 L1613.21 431.59 L1614.51 431.77 L1615.61 431.90 M1621.20 432.04 L1622.30 431.96 L1623.60 431.84 L1624.91 431.69 L1626.21 431.53 L1627.52 431.37 L1628.82 431.22 L1630.12 431.09 L1631.41 430.99 L1632.70 430.93 L1633.74 430.92 M1639.27 431.68 L1640.27 431.98 L1641.50 432.41 L1642.72 432.88 L1643.94 433.38 L1645.15 433.90 L1646.37 434.41 L1647.59 434.91 L1648.81 435.39 L1650.03 435.82 L1651.03 436.12 M1656.56 436.91 L1657.78 436.92 L1659.14 436.89 L1660.50 436.81 L1661.86 436.69 L1663.23 436.55 L1664.59 436.40 L1665.96 436.23 L1667.34 436.05 L1668.70 435.89 L1670.07 435.74 L1671.44 435.60 L1671.80 435.58" fill="none" stroke="#fff" stroke-width="2.00" stroke-linecap="butt" stroke-linejoin="round"/>
<polygon points="329.30,444.80 313.51,455.36 312.17,436.60" fill="#549E39"/>

</g>
</svg>
</body></html>
